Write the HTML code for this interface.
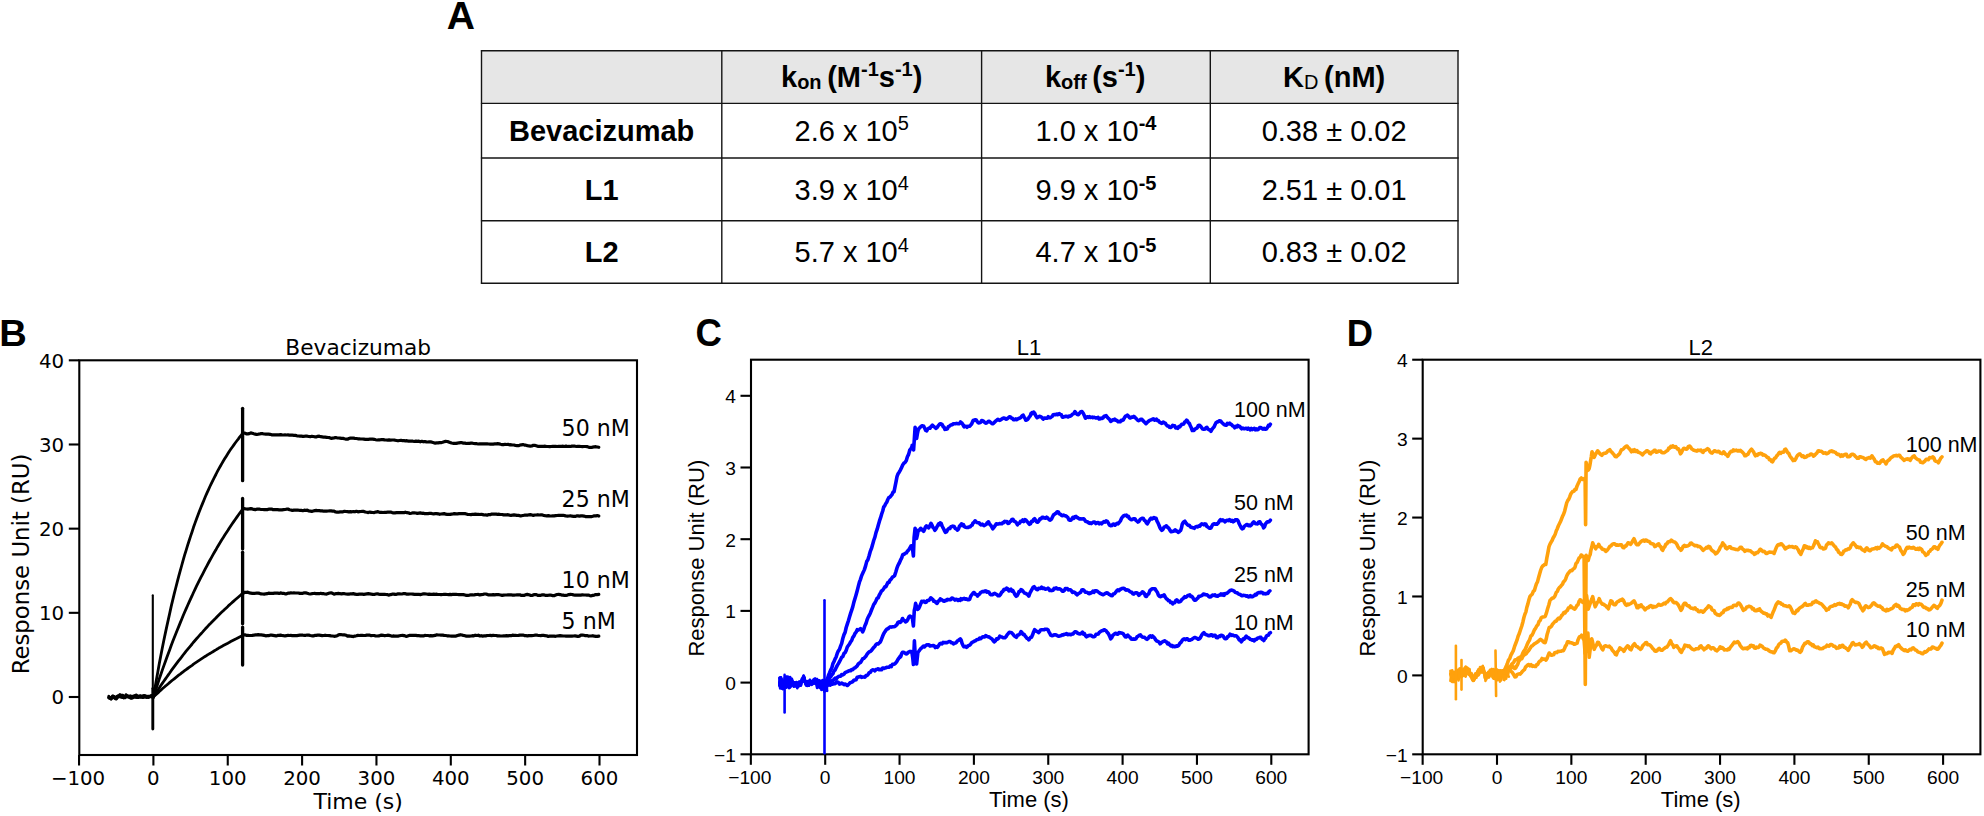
<!DOCTYPE html>
<html lang="en">
<head>
<meta charset="utf-8">
<title>SPR binding kinetics</title>
<style>
html,body{margin:0;padding:0;background:#fff;}
body{width:1984px;height:816px;overflow:hidden;}
svg{display:block;}
text{fill:#000;}
.tl{stroke:#141414;stroke-width:1.4;}
.tk{stroke:#000;stroke-width:2.1;}
.th{font-family:"Liberation Sans", Arial, Helvetica, sans-serif;font-weight:bold;font-size:29px;text-anchor:middle;}
.td{font-family:"Liberation Sans", Arial, Helvetica, sans-serif;font-size:29px;text-anchor:middle;}
.pl{font-family:"Liberation Sans", Arial, Helvetica, sans-serif;font-weight:bold;}
.dj{font-family:"DejaVu Sans", "Liberation Sans", sans-serif;}
.ar{font-family:"Liberation Sans", Arial, Helvetica, sans-serif;}
.dj.tkl{font-size:19.8px;}
.dj.lab{font-size:22px;}
.dj.ann{font-size:22.1px;}
.ar.tkl{font-size:19.2px;}
.ar.lab{font-size:22px;}
.ar.ann{font-size:21.5px;}
</style>
</head>
<body>
<svg width="1984" height="816" viewBox="0 0 1984 816">
<rect width="1984" height="816" fill="#ffffff"/>
<text transform="translate(446.63,29.2) scale(1.085,1.086)" class="pl" font-size="36">A</text>
<text transform="translate(-0.76,345.6) scale(1.061,1.017)" class="pl" font-size="36">B</text>
<text transform="translate(695.6,345.62) scale(1.015,1.063)" class="pl" font-size="36">C</text>
<text transform="translate(1346.77,345.6) scale(1.01,1.038)" class="pl" font-size="36">D</text>
<rect x="481.5" y="50.7" width="976.5" height="52.7" fill="#e6e6e6"/>
<line x1="481.5" y1="50.1" x2="481.5" y2="283.8" class="tl"/>
<line x1="721.8" y1="50.1" x2="721.8" y2="283.8" class="tl"/>
<line x1="981.6" y1="50.1" x2="981.6" y2="283.8" class="tl"/>
<line x1="1210.3" y1="50.1" x2="1210.3" y2="283.8" class="tl"/>
<line x1="1458.0" y1="50.1" x2="1458.0" y2="283.8" class="tl"/>
<line x1="480.9" y1="50.7" x2="1458.6" y2="50.7" class="tl"/>
<line x1="480.9" y1="103.4" x2="1458.6" y2="103.4" class="tl"/>
<line x1="480.9" y1="158.0" x2="1458.6" y2="158.0" class="tl"/>
<line x1="480.9" y1="220.8" x2="1458.6" y2="220.8" class="tl"/>
<line x1="480.9" y1="283.2" x2="1458.6" y2="283.2" class="tl"/>
<text x="851.7" y="87.4" class="th">k<tspan font-size="20" dy="1.5">on </tspan><tspan dy="-1.5">(M</tspan><tspan font-size="20" dy="-11">-1</tspan><tspan dy="11">s</tspan><tspan font-size="20" dy="-11">-1</tspan><tspan dy="11">)</tspan></text>
<text x="1095.15" y="87.4" class="th">k<tspan font-size="20" dy="1.5">off </tspan><tspan dy="-1.5">(s</tspan><tspan font-size="20" dy="-11">-1</tspan><tspan dy="11">)</tspan></text>
<text x="1334.15" y="87.4" class="th">K<tspan font-size="20" dy="1.5" font-weight="normal">D </tspan><tspan dy="-1.5">(nM)</tspan></text>
<text x="601.65" y="140.7" class="th">Bevacizumab</text>
<text x="851.7" y="140.7" class="td">2.6 x 10<tspan font-size="20" dy="-10.4">5</tspan></text>
<text x="1095.95" y="140.7" class="td">1.0 x 10<tspan font-size="20" dy="-10.4" font-weight="bold">-4</tspan></text>
<text x="1334.15" y="140.7" class="td">0.38 ± 0.02</text>
<text x="601.65" y="200.3" class="th">L1</text>
<text x="851.7" y="200.3" class="td">3.9 x 10<tspan font-size="20" dy="-10.4">4</tspan></text>
<text x="1095.95" y="200.3" class="td">9.9 x 10<tspan font-size="20" dy="-10.4" font-weight="bold">-5</tspan></text>
<text x="1334.15" y="200.3" class="td">2.51 ± 0.01</text>
<text x="601.65" y="262.3" class="th">L2</text>
<text x="851.7" y="262.3" class="td">5.7 x 10<tspan font-size="20" dy="-10.4">4</tspan></text>
<text x="1095.95" y="262.3" class="td">4.7 x 10<tspan font-size="20" dy="-10.4" font-weight="bold">-5</tspan></text>
<text x="1334.15" y="262.3" class="td">0.83 ± 0.02</text>
<rect x="79.3" y="360.3" width="557.7" height="394.7" fill="none" stroke="#000" stroke-width="2.1"/>
<line x1="79.05" y1="755.0" x2="79.05" y2="765.5" class="tk"/>
<text x="78.05" y="785.0" class="dj tkl" text-anchor="middle">−100</text>
<line x1="153.40" y1="755.0" x2="153.40" y2="765.5" class="tk"/>
<text x="153.40" y="785.0" class="dj tkl" text-anchor="middle">0</text>
<line x1="227.75" y1="755.0" x2="227.75" y2="765.5" class="tk"/>
<text x="227.75" y="785.0" class="dj tkl" text-anchor="middle">100</text>
<line x1="302.10" y1="755.0" x2="302.10" y2="765.5" class="tk"/>
<text x="302.10" y="785.0" class="dj tkl" text-anchor="middle">200</text>
<line x1="376.45" y1="755.0" x2="376.45" y2="765.5" class="tk"/>
<text x="376.45" y="785.0" class="dj tkl" text-anchor="middle">300</text>
<line x1="450.80" y1="755.0" x2="450.80" y2="765.5" class="tk"/>
<text x="450.80" y="785.0" class="dj tkl" text-anchor="middle">400</text>
<line x1="525.15" y1="755.0" x2="525.15" y2="765.5" class="tk"/>
<text x="525.15" y="785.0" class="dj tkl" text-anchor="middle">500</text>
<line x1="599.50" y1="755.0" x2="599.50" y2="765.5" class="tk"/>
<text x="599.50" y="785.0" class="dj tkl" text-anchor="middle">600</text>
<line x1="68.8" y1="697.00" x2="79.3" y2="697.00" class="tk"/>
<text x="64.1" y="704.20" class="dj tkl" text-anchor="end">0</text>
<line x1="68.8" y1="612.83" x2="79.3" y2="612.83" class="tk"/>
<text x="64.1" y="620.03" class="dj tkl" text-anchor="end">10</text>
<line x1="68.8" y1="528.66" x2="79.3" y2="528.66" class="tk"/>
<text x="64.1" y="535.86" class="dj tkl" text-anchor="end">20</text>
<line x1="68.8" y1="444.49" x2="79.3" y2="444.49" class="tk"/>
<text x="64.1" y="451.69" class="dj tkl" text-anchor="end">30</text>
<line x1="68.8" y1="360.32" x2="79.3" y2="360.32" class="tk"/>
<text x="64.1" y="367.52" class="dj tkl" text-anchor="end">40</text>
<text x="358.15" y="355.3" class="dj lab" text-anchor="middle" style="font-size:21.7px">Bevacizumab</text>
<text x="358.15" y="809.0" class="dj lab" text-anchor="middle">Time (s)</text>
<text transform="translate(29.4,564.0) rotate(-90)" class="dj lab" text-anchor="middle" style="font-size:22.8px">Response Unit (RU)</text>
<polyline points="108.8,697.8 109.5,698.3 110.3,698.4 111.0,698.3 111.8,698.0 112.5,697.2 113.3,697.9 114.0,697.8 114.7,698.0 115.5,698.0 116.2,696.8 117.0,696.4 117.7,696.1 118.5,696.6 119.2,696.9 119.9,696.9 120.7,697.1 121.4,696.9 122.2,697.1 122.9,697.6 123.7,698.0 124.4,697.1 125.1,696.3 125.9,694.6 126.6,695.3 127.4,695.9 128.1,697.2 128.9,696.9 129.6,696.8 130.4,696.4 131.1,696.8 131.8,697.4 132.6,697.0 133.3,697.0 134.1,695.8 134.8,696.6 135.6,696.3 136.3,697.5 137.0,697.7 137.8,697.6 138.5,696.5 139.3,696.2 140.0,696.2 140.8,697.3 141.5,697.1 142.2,697.4 143.0,697.1 143.7,697.1 144.5,697.0 145.2,697.0 146.0,697.4 146.7,697.5 147.5,697.3 148.2,697.1 148.9,697.2 149.7,696.8 150.4,696.1 151.2,695.5 151.9,696.0 152.7,697.0 153.4,697.5" fill="none" stroke="#000" stroke-width="2.8" stroke-linejoin="round" stroke-linecap="round" />
<polyline points="108.8,697.5 109.5,697.4 110.3,697.5 111.0,698.6 111.8,698.3 112.5,697.0 113.3,696.2 114.0,696.9 114.7,698.0 115.5,698.4 116.2,697.9 117.0,696.4 117.7,696.0 118.5,696.0 119.2,696.6 119.9,695.6 120.7,695.7 121.4,696.0 122.2,697.6 122.9,697.5 123.7,697.1 124.4,696.8 125.1,696.9 125.9,696.9 126.6,696.4 127.4,696.0 128.1,696.0 128.9,697.1 129.6,697.3 130.4,698.1 131.1,697.4 131.8,698.3 132.6,697.6 133.3,697.8 134.1,697.1 134.8,695.6 135.6,695.2 136.3,694.9 137.0,696.9 137.8,696.9 138.5,697.0 139.3,696.4 140.0,696.1 140.8,696.2 141.5,696.6 142.2,696.5 143.0,696.9 143.7,695.8 144.5,696.3 145.2,695.7 146.0,696.6 146.7,696.0 147.5,696.6 148.2,696.3 148.9,696.8 149.7,696.1 150.4,696.2 151.2,696.1 151.9,697.0 152.7,696.9 153.4,697.0" fill="none" stroke="#000" stroke-width="2.8" stroke-linejoin="round" stroke-linecap="round" />
<polyline points="108.8,697.6 109.5,698.1 110.3,698.1 111.0,698.2 111.8,697.2 112.5,696.2 113.3,696.1 114.0,696.6 114.7,697.3 115.5,699.0 116.2,699.2 117.0,698.1 117.7,696.9 118.5,695.9 119.2,695.2 119.9,694.5 120.7,694.8 121.4,695.0 122.2,695.5 122.9,696.0 123.7,696.3 124.4,696.6 125.1,696.4 125.9,695.9 126.6,695.6 127.4,695.8 128.1,696.7 128.9,696.1 129.6,696.0 130.4,695.7 131.1,696.4 131.8,696.1 132.6,696.1 133.3,696.5 134.1,696.9 134.8,697.2 135.6,697.1 136.3,696.5 137.0,695.7 137.8,695.9 138.5,695.9 139.3,697.0 140.0,696.9 140.8,697.2 141.5,696.7 142.2,696.5 143.0,697.6 143.7,697.1 144.5,697.1 145.2,696.3 146.0,696.7 146.7,696.9 147.5,697.3 148.2,697.5 148.9,697.1 149.7,696.9 150.4,696.7 151.2,696.8 151.9,696.9 152.7,696.5 153.4,696.6" fill="none" stroke="#000" stroke-width="2.8" stroke-linejoin="round" stroke-linecap="round" />
<polyline points="108.8,696.2 109.5,697.1 110.3,698.3 111.0,699.3 111.8,697.8 112.5,696.0 113.3,696.1 114.0,696.7 114.7,697.3 115.5,698.1 116.2,698.4 117.0,698.1 117.7,697.1 118.5,696.5 119.2,696.6 119.9,696.4 120.7,696.7 121.4,695.7 122.2,695.4 122.9,695.2 123.7,696.5 124.4,696.9 125.1,697.8 125.9,696.4 126.6,697.0 127.4,696.4 128.1,696.3 128.9,696.8 129.6,696.8 130.4,698.1 131.1,697.5 131.8,697.9 132.6,697.0 133.3,696.9 134.1,696.4 134.8,696.3 135.6,696.9 136.3,696.4 137.0,696.7 137.8,696.7 138.5,697.5 139.3,697.0 140.0,695.8 140.8,695.7 141.5,696.0 142.2,696.3 143.0,695.6 143.7,695.8 144.5,695.5 145.2,696.5 146.0,696.8 146.7,697.0 147.5,696.3 148.2,696.1 148.9,696.2 149.7,696.5 150.4,696.1 151.2,695.9 151.9,695.8 152.7,695.7 153.4,696.1" fill="none" stroke="#000" stroke-width="2.8" stroke-linejoin="round" stroke-linecap="round" />
<polyline points="153.4,697.0 154.9,688.3 156.4,679.8 157.9,671.6 159.3,663.5 160.8,655.7 162.3,648.1 163.8,640.6 165.3,633.4 166.8,626.4 168.3,619.6 169.8,612.9 171.2,606.4 172.7,600.1 174.2,593.9 175.7,588.0 177.2,582.1 178.7,576.4 180.2,570.9 181.7,565.5 183.1,560.3 184.6,555.2 186.1,550.3 187.6,545.4 189.1,540.7 190.6,536.1 192.1,531.7 193.5,527.3 195.0,523.1 196.5,519.0 198.0,515.0 199.5,511.1 201.0,507.3 202.5,503.6 204.0,500.0 205.4,496.5 206.9,493.1 208.4,489.8 209.9,486.5 211.4,483.4 212.9,480.3 214.4,477.4 215.9,474.5 217.3,471.6 218.8,468.9 220.3,466.2 221.8,463.6 223.3,461.0 224.8,458.6 226.3,456.2 227.8,453.8 229.2,451.5 230.7,449.3 232.2,447.2 233.7,445.1 235.2,443.0 236.7,441.0 238.2,439.1 239.6,437.2 241.1,435.3 242.6,433.5 243.4,433.1" fill="none" stroke="#000" stroke-width="2.8" stroke-linejoin="round" stroke-linecap="round" />
<polyline points="243.4,433.0 244.9,433.1 246.3,433.8 247.8,433.8 249.3,433.6 250.8,432.9 252.3,433.2 253.8,433.7 255.3,434.1 256.7,434.5 258.2,434.2 259.7,434.0 261.2,433.5 262.7,433.7 264.2,434.0 265.7,434.1 267.2,434.2 268.6,434.1 270.1,434.3 271.6,434.8 273.1,434.9 274.6,434.8 276.1,434.8 277.6,434.8 279.1,434.8 280.5,434.6 282.0,434.9 283.5,435.0 285.0,434.9 286.5,435.0 288.0,434.9 289.5,435.2 290.9,435.1 292.4,435.2 293.9,435.3 295.4,435.4 296.9,435.8 298.4,436.0 299.9,436.1 301.4,436.2 302.8,436.4 304.3,436.3 305.8,436.0 307.3,436.2 308.8,436.5 310.3,436.7 311.8,436.3 313.3,436.5 314.7,436.8 316.2,436.9 317.7,436.3 319.2,436.2 320.7,436.7 322.2,436.9 323.7,437.2 325.1,437.1 326.6,437.3 328.1,437.5 329.6,437.7 331.1,438.4 332.6,438.1 334.1,437.9 335.6,437.5 337.0,437.8 338.5,438.0 340.0,438.1 341.5,438.3 343.0,438.4 344.5,438.8 346.0,439.1 347.5,439.2 348.9,438.5 350.4,438.1 351.9,438.0 353.4,438.2 354.9,438.4 356.4,438.5 357.9,438.8 359.3,438.9 360.8,439.0 362.3,439.0 363.8,439.1 365.3,439.3 366.8,439.4 368.3,439.3 369.8,439.2 371.2,439.1 372.7,439.1 374.2,439.3 375.7,439.7 377.2,440.0 378.7,439.9 380.2,439.8 381.7,439.5 383.1,439.6 384.6,439.9 386.1,440.0 387.6,440.1 389.1,439.9 390.6,440.2 392.1,440.0 393.6,440.0 395.0,440.2 396.5,440.5 398.0,440.8 399.5,440.5 401.0,440.3 402.5,440.7 404.0,440.7 405.4,440.9 406.9,440.7 408.4,441.1 409.9,441.2 411.4,441.2 412.9,441.2 414.4,441.5 415.9,441.1 417.3,441.4 418.8,441.1 420.3,441.8 421.8,441.3 423.3,441.8 424.8,441.5 426.3,441.9 427.8,442.0 429.2,441.8 430.7,441.9 432.2,442.3 433.7,442.7 435.2,443.1 436.7,442.9 438.2,442.9 439.6,442.6 441.1,442.6 442.6,442.3 444.1,441.8 445.6,441.4 447.1,441.5 448.6,441.9 450.1,442.5 451.5,443.0 453.0,443.3 454.5,443.4 456.0,443.4 457.5,443.1 459.0,442.8 460.5,442.6 462.0,442.7 463.4,443.1 464.9,443.1 466.4,443.5 467.9,443.4 469.4,443.3 470.9,443.1 472.4,443.2 473.8,443.5 475.3,443.7 476.8,443.7 478.3,444.0 479.8,443.8 481.3,443.9 482.8,443.8 484.3,443.9 485.7,443.9 487.2,443.9 488.7,444.0 490.2,444.1 491.7,444.2 493.2,444.1 494.7,443.9 496.2,443.8 497.6,443.7 499.1,443.9 500.6,444.3 502.1,444.6 503.6,444.6 505.1,444.3 506.6,444.5 508.0,444.4 509.5,444.8 511.0,444.7 512.5,445.0 514.0,445.0 515.5,445.5 517.0,445.7 518.5,445.7 519.9,445.1 521.4,444.8 522.9,444.6 524.4,445.1 525.9,445.2 527.4,445.6 528.9,445.9 530.4,446.2 531.8,446.0 533.3,445.3 534.8,445.4 536.3,445.7 537.8,446.4 539.3,446.3 540.8,446.4 542.3,446.4 543.7,446.4 545.2,446.2 546.7,446.5 548.2,446.5 549.7,446.7 551.2,446.5 552.7,446.3 554.1,446.3 555.6,446.3 557.1,446.5 558.6,446.4 560.1,446.3 561.6,446.3 563.1,446.2 564.6,446.5 566.0,446.1 567.5,446.5 569.0,446.3 570.5,446.5 572.0,446.1 573.5,446.2 575.0,446.2 576.5,446.5 577.9,446.3 579.4,446.4 580.9,446.5 582.4,446.6 583.9,446.5 585.4,446.5 586.9,446.6 588.3,447.1 589.8,447.3 591.3,447.5 592.8,447.1 594.3,446.8 595.8,446.7 597.3,447.0 598.8,447.3" fill="none" stroke="#000" stroke-width="3.2" stroke-linejoin="round" stroke-linecap="round" />
<polyline points="153.4,697.0 154.9,692.4 156.4,687.8 157.9,683.3 159.3,678.8 160.8,674.5 162.3,670.1 163.8,665.9 165.3,661.7 166.8,657.6 168.3,653.5 169.8,649.5 171.2,645.5 172.7,641.6 174.2,637.8 175.7,634.0 177.2,630.2 178.7,626.6 180.2,622.9 181.7,619.3 183.1,615.8 184.6,612.3 186.1,608.9 187.6,605.5 189.1,602.2 190.6,598.9 192.1,595.7 193.5,592.5 195.0,589.3 196.5,586.2 198.0,583.2 199.5,580.2 201.0,577.2 202.5,574.3 204.0,571.4 205.4,568.6 206.9,565.8 208.4,563.0 209.9,560.3 211.4,557.6 212.9,554.9 214.4,552.3 215.9,549.8 217.3,547.2 218.8,544.7 220.3,542.3 221.8,539.8 223.3,537.5 224.8,535.1 226.3,532.8 227.8,530.5 229.2,528.2 230.7,526.0 232.2,523.8 233.7,521.6 235.2,519.5 236.7,517.4 238.2,515.3 239.6,513.3 241.1,511.3 242.6,509.3 243.4,508.9" fill="none" stroke="#000" stroke-width="2.8" stroke-linejoin="round" stroke-linecap="round" />
<polyline points="243.4,508.4 244.9,508.7 246.3,509.0 247.8,509.2 249.3,508.8 250.8,508.6 252.3,508.9 253.8,509.4 255.3,509.6 256.7,509.2 258.2,509.1 259.7,509.2 261.2,509.5 262.7,509.5 264.2,509.6 265.7,509.6 267.2,509.6 268.6,509.2 270.1,509.2 271.6,509.1 273.1,509.7 274.6,509.5 276.1,509.7 277.6,509.7 279.1,509.9 280.5,509.8 282.0,509.8 283.5,509.6 285.0,509.5 286.5,509.2 288.0,509.1 289.5,509.7 290.9,510.0 292.4,510.5 293.9,510.1 295.4,510.2 296.9,510.0 298.4,510.2 299.9,510.3 301.4,510.4 302.8,510.7 304.3,510.2 305.8,510.3 307.3,510.2 308.8,511.0 310.3,511.2 311.8,511.4 313.3,511.0 314.7,510.6 316.2,510.4 317.7,510.7 319.2,510.6 320.7,510.8 322.2,510.9 323.7,511.2 325.1,511.2 326.6,511.1 328.1,511.0 329.6,510.9 331.1,510.9 332.6,511.1 334.1,511.2 335.6,512.0 337.0,512.2 338.5,512.2 340.0,511.9 341.5,511.8 343.0,511.8 344.5,511.3 346.0,511.5 347.5,511.6 348.9,511.9 350.4,511.6 351.9,511.8 353.4,511.5 354.9,511.8 356.4,511.3 357.9,511.8 359.3,511.6 360.8,511.5 362.3,511.3 363.8,511.4 365.3,512.0 366.8,512.3 368.3,512.6 369.8,512.1 371.2,512.3 372.7,512.5 374.2,512.6 375.7,512.1 377.2,511.7 378.7,511.9 380.2,512.4 381.7,512.4 383.1,512.5 384.6,512.3 386.1,512.3 387.6,512.2 389.1,512.1 390.6,512.1 392.1,512.6 393.6,512.8 395.0,512.9 396.5,512.7 398.0,512.6 399.5,512.7 401.0,512.7 402.5,512.7 404.0,512.6 405.4,512.2 406.9,512.7 408.4,512.8 409.9,513.5 411.4,513.2 412.9,512.8 414.4,512.9 415.9,513.0 417.3,513.4 418.8,513.1 420.3,512.9 421.8,513.3 423.3,513.2 424.8,513.6 426.3,513.5 427.8,513.7 429.2,513.4 430.7,513.3 432.2,513.6 433.7,513.8 435.2,513.7 436.7,513.6 438.2,513.8 439.6,514.3 441.1,514.0 442.6,513.8 444.1,513.6 445.6,514.2 447.1,514.4 448.6,514.3 450.1,514.4 451.5,514.1 453.0,513.9 454.5,513.6 456.0,513.8 457.5,513.9 459.0,513.7 460.5,513.7 462.0,513.6 463.4,513.5 464.9,513.6 466.4,514.0 467.9,514.5 469.4,514.5 470.9,514.6 472.4,514.4 473.8,514.3 475.3,514.1 476.8,514.4 478.3,514.3 479.8,514.5 481.3,514.3 482.8,514.6 484.3,515.0 485.7,514.9 487.2,515.2 488.7,514.6 490.2,514.7 491.7,514.1 493.2,514.2 494.7,514.1 496.2,514.1 497.6,514.3 499.1,514.2 500.6,514.5 502.1,514.5 503.6,514.9 505.1,514.8 506.6,514.8 508.0,514.7 509.5,515.1 511.0,515.3 512.5,515.1 514.0,514.9 515.5,515.1 517.0,515.4 518.5,515.4 519.9,515.8 521.4,515.8 522.9,515.5 524.4,515.2 525.9,515.2 527.4,515.2 528.9,514.8 530.4,514.6 531.8,515.0 533.3,515.4 534.8,515.0 536.3,515.0 537.8,514.7 539.3,515.0 540.8,514.9 542.3,514.9 543.7,515.5 545.2,515.7 546.7,515.8 548.2,515.7 549.7,515.9 551.2,516.0 552.7,515.9 554.1,515.9 555.6,515.7 557.1,515.5 558.6,515.3 560.1,515.4 561.6,515.3 563.1,515.3 564.6,515.6 566.0,516.0 567.5,516.1 569.0,516.0 570.5,515.8 572.0,516.2 573.5,516.4 575.0,516.4 576.5,515.9 577.9,515.9 579.4,516.1 580.9,515.9 582.4,515.9 583.9,516.1 585.4,516.6 586.9,516.6 588.3,516.7 589.8,516.6 591.3,516.7 592.8,516.3 594.3,515.8 595.8,515.8 597.3,515.6 598.8,516.1" fill="none" stroke="#000" stroke-width="3.2" stroke-linejoin="round" stroke-linecap="round" />
<polyline points="153.4,697.0 154.9,694.7 156.4,692.4 157.9,690.1 159.3,687.9 160.8,685.6 162.3,683.4 163.8,681.3 165.3,679.1 166.8,677.0 168.3,674.9 169.8,672.8 171.2,670.7 172.7,668.7 174.2,666.7 175.7,664.7 177.2,662.7 178.7,660.7 180.2,658.8 181.7,656.9 183.1,655.0 184.6,653.1 186.1,651.2 187.6,649.4 189.1,647.6 190.6,645.8 192.1,644.0 193.5,642.2 195.0,640.5 196.5,638.8 198.0,637.1 199.5,635.4 201.0,633.7 202.5,632.1 204.0,630.4 205.4,628.8 206.9,627.2 208.4,625.6 209.9,624.1 211.4,622.5 212.9,621.0 214.4,619.5 215.9,618.0 217.3,616.5 218.8,615.0 220.3,613.5 221.8,612.1 223.3,610.7 224.8,609.3 226.3,607.9 227.8,606.5 229.2,605.1 230.7,603.8 232.2,602.4 233.7,601.1 235.2,599.8 236.7,598.5 238.2,597.2 239.6,596.0 241.1,594.7 242.6,593.5 243.4,593.1" fill="none" stroke="#000" stroke-width="2.8" stroke-linejoin="round" stroke-linecap="round" />
<polyline points="243.4,593.0 244.9,592.3 246.3,592.3 247.8,592.2 249.3,592.9 250.8,593.1 252.3,593.3 253.8,593.3 255.3,593.3 256.7,593.0 258.2,593.1 259.7,593.4 261.2,593.9 262.7,594.0 264.2,594.1 265.7,593.8 267.2,593.7 268.6,593.1 270.1,593.3 271.6,593.3 273.1,593.4 274.6,593.1 276.1,593.2 277.6,593.1 279.1,593.4 280.5,592.9 282.0,593.3 283.5,593.3 285.0,593.8 286.5,593.8 288.0,593.2 289.5,593.1 290.9,592.8 292.4,593.0 293.9,592.9 295.4,593.0 296.9,593.0 298.4,593.0 299.9,593.4 301.4,593.4 302.8,593.3 304.3,592.8 305.8,592.9 307.3,593.3 308.8,593.7 310.3,594.0 311.8,593.7 313.3,593.5 314.7,593.4 316.2,593.7 317.7,593.7 319.2,593.7 320.7,593.3 322.2,593.7 323.7,593.7 325.1,594.0 326.6,594.1 328.1,593.5 329.6,593.0 331.1,592.9 332.6,593.3 334.1,594.1 335.6,593.7 337.0,593.6 338.5,593.4 340.0,593.7 341.5,593.9 343.0,593.7 344.5,593.7 346.0,594.0 347.5,594.1 348.9,594.2 350.4,593.8 351.9,593.8 353.4,593.6 354.9,594.2 356.4,594.3 357.9,594.4 359.3,594.2 360.8,594.1 362.3,594.1 363.8,594.3 365.3,594.1 366.8,593.9 368.3,593.7 369.8,593.8 371.2,594.2 372.7,594.3 374.2,594.5 375.7,594.0 377.2,593.8 378.7,594.1 380.2,594.3 381.7,594.4 383.1,594.3 384.6,594.3 386.1,594.5 387.6,594.7 389.1,595.1 390.6,594.6 392.1,594.2 393.6,594.0 395.0,594.4 396.5,594.3 398.0,593.9 399.5,593.9 401.0,594.0 402.5,593.8 404.0,593.5 405.4,593.7 406.9,594.1 408.4,594.2 409.9,594.0 411.4,594.0 412.9,594.1 414.4,594.3 415.9,594.3 417.3,594.4 418.8,594.3 420.3,594.6 421.8,594.2 423.3,593.9 424.8,593.9 426.3,594.0 427.8,594.3 429.2,594.1 430.7,594.4 432.2,594.3 433.7,594.2 435.2,594.4 436.7,594.2 438.2,594.5 439.6,594.5 441.1,594.7 442.6,594.5 444.1,594.3 445.6,594.3 447.1,594.5 448.6,594.6 450.1,594.4 451.5,594.6 453.0,594.3 454.5,594.4 456.0,594.3 457.5,594.5 459.0,594.7 460.5,594.6 462.0,594.6 463.4,594.6 464.9,595.0 466.4,595.4 467.9,595.3 469.4,595.1 470.9,594.8 472.4,594.9 473.8,595.0 475.3,594.6 476.8,594.5 478.3,594.4 479.8,594.9 481.3,594.7 482.8,594.5 484.3,594.0 485.7,594.0 487.2,594.4 488.7,594.9 490.2,594.8 491.7,594.8 493.2,594.6 494.7,594.9 496.2,594.7 497.6,594.6 499.1,594.7 500.6,595.0 502.1,595.4 503.6,595.1 505.1,595.0 506.6,595.0 508.0,594.9 509.5,594.9 511.0,594.8 512.5,595.1 514.0,595.2 515.5,595.0 517.0,594.9 518.5,594.9 519.9,594.8 521.4,595.4 522.9,595.4 524.4,595.3 525.9,594.6 527.4,594.4 528.9,594.7 530.4,595.3 531.8,595.5 533.3,594.9 534.8,594.5 536.3,594.6 537.8,595.4 539.3,595.4 540.8,595.3 542.3,594.9 543.7,594.9 545.2,595.3 546.7,595.4 548.2,595.3 549.7,595.0 551.2,595.2 552.7,595.6 554.1,595.7 555.6,595.1 557.1,594.5 558.6,594.4 560.1,594.6 561.6,595.1 563.1,595.1 564.6,595.5 566.0,595.3 567.5,595.1 569.0,594.6 570.5,594.4 572.0,594.5 573.5,594.9 575.0,595.1 576.5,595.0 577.9,595.2 579.4,595.1 580.9,595.1 582.4,594.8 583.9,595.0 585.4,595.0 586.9,595.1 588.3,595.1 589.8,595.6 591.3,595.8 592.8,595.4 594.3,595.1 595.8,594.6 597.3,594.6 598.8,594.4" fill="none" stroke="#000" stroke-width="3.2" stroke-linejoin="round" stroke-linecap="round" />
<polyline points="153.4,697.0 154.9,695.6 156.4,694.2 157.9,692.9 159.3,691.5 160.8,690.2 162.3,688.8 163.8,687.5 165.3,686.2 166.8,685.0 168.3,683.7 169.8,682.4 171.2,681.2 172.7,680.0 174.2,678.8 175.7,677.6 177.2,676.4 178.7,675.2 180.2,674.1 181.7,672.9 183.1,671.8 184.6,670.7 186.1,669.6 187.6,668.5 189.1,667.4 190.6,666.3 192.1,665.3 193.5,664.2 195.0,663.2 196.5,662.2 198.0,661.2 199.5,660.2 201.0,659.2 202.5,658.2 204.0,657.2 205.4,656.3 206.9,655.3 208.4,654.4 209.9,653.5 211.4,652.6 212.9,651.7 214.4,650.8 215.9,649.9 217.3,649.0 218.8,648.1 220.3,647.3 221.8,646.4 223.3,645.6 224.8,644.8 226.3,644.0 227.8,643.2 229.2,642.4 230.7,641.6 232.2,640.8 233.7,640.0 235.2,639.2 236.7,638.5 238.2,637.7 239.6,637.0 241.1,636.3 242.6,635.6 243.4,635.1" fill="none" stroke="#000" stroke-width="2.8" stroke-linejoin="round" stroke-linecap="round" />
<polyline points="243.4,634.9 244.9,634.9 246.3,635.3 247.8,635.3 249.3,635.5 250.8,635.5 252.3,635.4 253.8,635.2 255.3,634.9 256.7,634.9 258.2,634.7 259.7,634.9 261.2,634.9 262.7,635.1 264.2,635.4 265.7,635.8 267.2,635.7 268.6,635.6 270.1,635.2 271.6,635.2 273.1,635.4 274.6,635.6 276.1,635.9 277.6,635.4 279.1,635.3 280.5,635.1 282.0,635.5 283.5,635.7 285.0,635.8 286.5,635.7 288.0,635.3 289.5,635.5 290.9,635.4 292.4,635.7 293.9,635.5 295.4,635.7 296.9,635.6 298.4,635.4 299.9,635.2 301.4,635.0 302.8,635.2 304.3,635.3 305.8,635.3 307.3,635.0 308.8,635.1 310.3,635.5 311.8,635.8 313.3,635.9 314.7,635.4 316.2,635.3 317.7,635.1 319.2,635.2 320.7,635.4 322.2,635.6 323.7,635.5 325.1,635.2 326.6,635.5 328.1,635.5 329.6,635.7 331.1,635.9 332.6,636.0 334.1,636.3 335.6,636.2 337.0,635.8 338.5,634.9 340.0,634.5 341.5,634.7 343.0,634.8 344.5,634.9 346.0,635.2 347.5,636.1 348.9,635.9 350.4,636.2 351.9,636.3 353.4,636.6 354.9,636.1 356.4,635.8 357.9,635.4 359.3,635.5 360.8,635.3 362.3,635.4 363.8,635.5 365.3,635.5 366.8,635.1 368.3,635.2 369.8,635.2 371.2,635.6 372.7,635.5 374.2,635.5 375.7,636.0 377.2,636.0 378.7,635.9 380.2,635.4 381.7,635.1 383.1,635.3 384.6,635.7 386.1,635.5 387.6,635.2 389.1,635.4 390.6,635.8 392.1,636.2 393.6,635.9 395.0,636.2 396.5,636.1 398.0,636.1 399.5,635.8 401.0,635.5 402.5,635.4 404.0,635.6 405.4,636.1 406.9,636.3 408.4,635.8 409.9,635.3 411.4,635.3 412.9,635.3 414.4,635.4 415.9,635.4 417.3,635.6 418.8,635.7 420.3,635.8 421.8,635.9 423.3,635.9 424.8,635.4 426.3,635.5 427.8,635.5 429.2,635.8 430.7,635.6 432.2,635.9 433.7,635.6 435.2,635.4 436.7,634.8 438.2,635.0 439.6,635.0 441.1,635.2 442.6,635.1 444.1,635.4 445.6,635.5 447.1,635.8 448.6,635.9 450.1,636.0 451.5,636.2 453.0,636.2 454.5,636.2 456.0,636.1 457.5,635.5 459.0,635.1 460.5,634.7 462.0,635.0 463.4,635.5 464.9,635.7 466.4,636.1 467.9,636.1 469.4,636.2 470.9,636.0 472.4,635.7 473.8,635.8 475.3,635.2 476.8,635.5 478.3,635.2 479.8,636.0 481.3,635.7 482.8,636.1 484.3,635.8 485.7,635.9 487.2,635.5 488.7,635.5 490.2,635.4 491.7,635.6 493.2,635.3 494.7,635.5 496.2,635.5 497.6,635.9 499.1,635.8 500.6,636.0 502.1,636.0 503.6,635.9 505.1,635.9 506.6,635.7 508.0,635.9 509.5,635.5 511.0,635.7 512.5,635.2 514.0,635.4 515.5,635.4 517.0,635.5 518.5,635.4 519.9,635.1 521.4,635.0 522.9,635.1 524.4,635.6 525.9,635.7 527.4,635.9 528.9,635.6 530.4,635.5 531.8,635.6 533.3,635.5 534.8,635.2 536.3,635.0 537.8,635.3 539.3,635.5 540.8,635.6 542.3,635.3 543.7,635.4 545.2,635.7 546.7,635.8 548.2,636.4 549.7,636.2 551.2,636.2 552.7,636.1 554.1,636.1 555.6,636.3 557.1,636.0 558.6,635.8 560.1,635.7 561.6,635.8 563.1,636.0 564.6,636.0 566.0,636.1 567.5,636.1 569.0,636.1 570.5,636.1 572.0,636.1 573.5,636.0 575.0,635.9 576.5,636.1 577.9,636.5 579.4,636.1 580.9,635.1 582.4,635.0 583.9,635.3 585.4,635.7 586.9,635.6 588.3,636.1 589.8,636.0 591.3,636.0 592.8,635.7 594.3,636.2 595.8,636.4 597.3,636.4 598.8,636.1" fill="none" stroke="#000" stroke-width="3.2" stroke-linejoin="round" stroke-linecap="round" />
<polyline points="152.8,595.2 152.8,688.6" fill="none" stroke="#000" stroke-width="2.1" stroke-linejoin="round" stroke-linecap="round" />
<polyline points="152.8,688.6 152.8,729.0" fill="none" stroke="#000" stroke-width="2.9" stroke-linejoin="round" stroke-linecap="round" />
<polyline points="242.6,408.3 242.6,480.7" fill="none" stroke="#000" stroke-width="3.3" stroke-linejoin="round" stroke-linecap="round" />
<polyline points="242.6,498.4 242.6,548.9" fill="none" stroke="#000" stroke-width="3.3" stroke-linejoin="round" stroke-linecap="round" />
<polyline points="242.6,552.2 242.6,623.8" fill="none" stroke="#000" stroke-width="3.3" stroke-linejoin="round" stroke-linecap="round" />
<polyline points="242.6,627.1 242.6,665.0" fill="none" stroke="#000" stroke-width="3.3" stroke-linejoin="round" stroke-linecap="round" />
<text x="561.6" y="435.6" class="dj ann">50 nM</text>
<text x="561.6" y="507.4" class="dj ann">25 nM</text>
<text x="561.6" y="587.5" class="dj ann">10 nM</text>
<text x="561.6" y="628.8" class="dj ann">5 nM</text>
<rect x="751.0" y="359.7" width="557.5999999999999" height="394.59999999999997" fill="none" stroke="#000" stroke-width="2.1"/>
<line x1="750.85" y1="754.3" x2="750.85" y2="764.8" class="tk"/>
<text x="749.85" y="784.0" class="ar tkl" text-anchor="middle">−100</text>
<line x1="825.20" y1="754.3" x2="825.20" y2="764.8" class="tk"/>
<text x="825.20" y="784.0" class="ar tkl" text-anchor="middle">0</text>
<line x1="899.55" y1="754.3" x2="899.55" y2="764.8" class="tk"/>
<text x="899.55" y="784.0" class="ar tkl" text-anchor="middle">100</text>
<line x1="973.90" y1="754.3" x2="973.90" y2="764.8" class="tk"/>
<text x="973.90" y="784.0" class="ar tkl" text-anchor="middle">200</text>
<line x1="1048.25" y1="754.3" x2="1048.25" y2="764.8" class="tk"/>
<text x="1048.25" y="784.0" class="ar tkl" text-anchor="middle">300</text>
<line x1="1122.60" y1="754.3" x2="1122.60" y2="764.8" class="tk"/>
<text x="1122.60" y="784.0" class="ar tkl" text-anchor="middle">400</text>
<line x1="1196.95" y1="754.3" x2="1196.95" y2="764.8" class="tk"/>
<text x="1196.95" y="784.0" class="ar tkl" text-anchor="middle">500</text>
<line x1="1271.30" y1="754.3" x2="1271.30" y2="764.8" class="tk"/>
<text x="1271.30" y="784.0" class="ar tkl" text-anchor="middle">600</text>
<line x1="740.5" y1="754.30" x2="751.0" y2="754.30" class="tk"/>
<text x="736.0" y="761.80" class="ar tkl" text-anchor="end">−1</text>
<line x1="740.5" y1="682.60" x2="751.0" y2="682.60" class="tk"/>
<text x="736.0" y="690.10" class="ar tkl" text-anchor="end">0</text>
<line x1="740.5" y1="610.90" x2="751.0" y2="610.90" class="tk"/>
<text x="736.0" y="618.40" class="ar tkl" text-anchor="end">1</text>
<line x1="740.5" y1="539.20" x2="751.0" y2="539.20" class="tk"/>
<text x="736.0" y="546.70" class="ar tkl" text-anchor="end">2</text>
<line x1="740.5" y1="467.50" x2="751.0" y2="467.50" class="tk"/>
<text x="736.0" y="475.00" class="ar tkl" text-anchor="end">3</text>
<line x1="740.5" y1="395.80" x2="751.0" y2="395.80" class="tk"/>
<text x="736.0" y="403.30" class="ar tkl" text-anchor="end">4</text>
<text x="1029.00" y="354.7" class="ar lab" text-anchor="middle">L1</text>
<text x="1029.00" y="807.3" class="ar lab" text-anchor="middle">Time (s)</text>
<text transform="translate(703.6,558.2) rotate(-90)" class="ar lab" text-anchor="middle">Response Unit (RU)</text>
<polyline points="779.3,683.2 780.2,688.5 781.1,677.3 782.0,680.4 782.9,689.1 783.8,685.1 784.7,678.0 785.6,680.7 786.5,687.7 787.4,682.1 788.3,676.8 789.2,688.2 790.1,678.3 791.0,685.0 791.9,684.8 792.8,683.4 793.7,686.7 794.6,682.4 795.5,685.3 796.4,682.7 797.3,688.2 798.2,682.9 799.1,684.4 800.0,685.6 800.9,685.2 801.8,678.9 802.7,682.0 803.6,680.3 804.5,678.9 805.4,683.3 806.3,681.8 807.2,681.4 808.1,681.1 809.0,681.6 809.9,684.3 810.8,681.8 811.7,684.8 812.6,684.0 813.5,679.7 814.4,680.9 815.3,678.5 816.2,682.7 817.1,684.6 818.0,685.3 818.9,680.4 819.8,686.9 820.7,681.0 821.6,689.8 822.5,685.3 823.4,681.1 824.3,691.7 825.2,691.2 826.1,683.7 827.0,690.8" fill="none" stroke="#0000ff" stroke-width="2.6" stroke-linejoin="round" stroke-linecap="round"/>
<polyline points="779.3,682.2 780.2,680.1 781.1,679.1 782.0,688.6 782.9,684.1 783.8,685.4 784.7,683.5 785.6,681.1 786.5,685.8 787.4,683.8 788.3,686.6 789.2,685.1 790.1,687.5 791.0,682.4 791.9,678.8 792.8,681.5 793.7,685.3 794.6,682.3 795.5,685.6 796.4,685.8 797.3,682.7 798.2,686.8 799.1,681.5 800.0,685.8 800.9,684.9 801.8,679.7 802.7,681.1 803.6,679.7 804.5,677.7 805.4,682.8 806.3,681.2 807.2,685.9 808.1,684.2 809.0,685.6 809.9,679.7 810.8,680.9 811.7,682.5 812.6,682.3 813.5,679.6 814.4,683.6 815.3,683.2 816.2,681.0 817.1,679.0 818.0,686.3 818.9,684.2 819.8,687.5 820.7,685.6 821.6,684.5 822.5,680.1 823.4,681.5 824.3,685.4 825.2,688.6 826.1,684.9 827.0,688.6" fill="none" stroke="#0000ff" stroke-width="2.6" stroke-linejoin="round" stroke-linecap="round"/>
<polyline points="779.3,685.6 780.2,677.4 781.1,680.5 782.0,679.7 782.9,686.2 783.8,685.2 784.7,687.9 785.6,677.3 786.5,681.7 787.4,676.7 788.3,679.3 789.2,683.1 790.1,677.0 791.0,679.3 791.9,685.2 792.8,683.9 793.7,682.3 794.6,684.8 795.5,686.5 796.4,682.1 797.3,687.2 798.2,686.2 799.1,683.4 800.0,681.6 800.9,685.6 801.8,680.4 802.7,677.3 803.6,675.8 804.5,682.1 805.4,682.4 806.3,685.3 807.2,684.8 808.1,683.3 809.0,685.6 809.9,681.6 810.8,682.3 811.7,683.8 812.6,682.4 813.5,683.6 814.4,681.7 815.3,682.4 816.2,679.5 817.1,680.0 818.0,681.8 818.9,680.3 819.8,682.4 820.7,680.9 821.6,683.1 822.5,687.4 823.4,684.2 824.3,684.4 825.2,682.4 826.1,683.0 827.0,690.9" fill="none" stroke="#0000ff" stroke-width="2.6" stroke-linejoin="round" stroke-linecap="round"/>
<polyline points="779.3,677.8 780.2,686.1 781.1,678.8 782.0,682.8 782.9,685.3 783.8,686.8 784.7,682.2 785.6,682.6 786.5,676.5 787.4,682.0 788.3,681.3 789.2,687.6 790.1,683.7 791.0,686.5 791.9,682.4 792.8,681.6 793.7,686.1 794.6,686.2 795.5,683.9 796.4,682.6 797.3,685.5 798.2,685.0 799.1,686.0 800.0,684.2 800.9,682.9 801.8,681.8 802.7,679.0 803.6,675.6 804.5,677.4 805.4,684.4 806.3,685.5 807.2,682.2 808.1,685.4 809.0,682.9 809.9,680.0 810.8,684.2 811.7,682.3 812.6,684.2 813.5,682.5 814.4,678.8 815.3,681.9 816.2,683.9 817.1,688.0 818.0,682.3 818.9,685.7 819.8,688.0 820.7,681.7 821.6,689.9 822.5,689.2 823.4,680.5 824.3,687.0 825.2,684.3 826.1,682.0 827.0,686.9" fill="none" stroke="#0000ff" stroke-width="2.6" stroke-linejoin="round" stroke-linecap="round"/>
<polyline points="824.5,600.3 824.5,753.3" fill="none" stroke="#0000ff" stroke-width="2.6" stroke-linejoin="round" stroke-linecap="round"/>
<polyline points="784.6,674.9 784.6,712.5" fill="none" stroke="#0000ff" stroke-width="2.6" stroke-linejoin="round" stroke-linecap="round"/>
<polyline points="824.5,686.0 825.5,683.3 826.6,680.2 827.6,678.3 828.6,674.9 829.6,672.7 830.7,669.9 831.8,668.0 832.9,663.7 834.0,661.7 835.1,658.8 836.2,656.8 837.3,653.2 838.4,650.8 839.5,649.4 840.6,646.2 841.7,643.4 842.8,638.5 844.0,634.6 845.1,632.4 846.2,627.5 847.3,624.1 848.4,620.7 849.5,617.0 850.6,613.4 851.7,610.2 852.8,606.6 853.9,602.1 855.0,598.5 856.1,594.7 857.2,590.7 858.3,586.4 859.4,582.2 860.4,579.6 861.3,576.7 862.3,574.2 863.3,572.1 864.4,569.6 865.6,565.9 866.7,561.6 867.9,559.8 869.1,555.8 870.2,551.7 871.4,548.7 872.6,544.6 873.7,540.5 874.9,537.2 876.0,532.6 877.2,529.2 878.4,524.8 879.5,520.9 880.6,517.7 881.6,514.3 882.7,511.0 883.7,507.0 884.7,505.8 885.8,503.5 886.8,502.2 887.8,499.5 888.8,497.7 889.9,497.2 890.9,495.9 891.9,494.8 892.9,492.3 894.0,491.9 895.0,486.9 896.0,481.8 897.0,476.7 898.1,473.7 899.3,471.9 900.5,469.8 901.6,467.4 902.8,464.8 904.0,463.1 905.1,462.4 906.3,460.5 907.4,456.8 908.6,454.4 909.8,450.0 910.7,449.1 911.6,447.5 912.6,445.4 912.1,445.4 912.9,448.2 913.6,449.9 914.4,438.1 915.1,427.3 915.9,433.2 916.6,438.4 917.4,433.6 918.1,430.3 919.2,428.1 920.2,427.3 921.0,426.5 921.8,425.8 922.7,425.8 923.7,426.2 924.7,428.3 925.7,430.4 926.7,430.8 927.8,428.9 928.9,428.1 930.0,428.2 931.1,426.4 932.3,425.2 933.4,426.2 934.6,427.1 935.8,428.3 936.9,427.7 938.1,425.9 939.2,424.7 940.3,423.7 941.3,424.0 942.3,424.7 943.2,426.7 944.0,426.9 944.9,429.3 945.7,429.0 946.5,429.2 947.4,428.8 948.4,426.6 949.4,426.2 950.4,425.3 951.4,424.7 952.4,424.6 953.4,423.7 954.4,423.8 955.4,423.7 956.5,423.4 957.5,423.6 958.5,423.7 959.5,423.6 960.5,422.0 961.7,422.9 962.8,424.4 964.0,426.8 965.0,426.3 966.0,426.3 967.0,427.3 967.9,426.3 968.7,426.2 969.6,426.2 970.6,425.2 971.6,424.0 972.6,421.7 973.4,420.2 974.3,420.4 975.1,419.7 976.2,420.0 977.4,421.9 978.5,422.9 979.6,422.7 980.6,422.4 981.7,420.5 982.7,420.7 983.7,421.5 984.7,422.3 985.7,423.2 986.7,422.9 987.7,422.0 988.7,421.2 989.7,421.7 990.9,422.6 992.1,423.6 993.2,423.7 994.4,422.3 995.6,421.2 996.8,420.2 997.8,419.3 998.8,420.0 999.8,420.4 1000.8,419.7 1001.8,419.0 1002.8,418.4 1003.8,418.0 1004.8,418.2 1005.9,419.2 1007.0,419.0 1008.2,417.9 1009.4,416.7 1010.4,417.0 1011.4,418.2 1012.4,418.3 1013.4,419.7 1014.6,419.8 1015.8,418.9 1016.9,419.7 1018.1,418.7 1019.3,418.3 1020.5,417.7 1021.4,416.8 1022.3,415.6 1023.2,415.2 1024.1,417.1 1024.9,418.1 1025.8,420.2 1026.7,420.0 1027.6,419.5 1028.5,418.2 1029.4,416.8 1030.2,416.0 1031.0,413.6 1031.9,412.7 1032.7,413.5 1033.6,412.1 1034.7,413.2 1035.9,415.9 1037.1,417.7 1038.3,416.8 1039.4,416.3 1040.6,416.7 1041.5,417.1 1042.3,418.1 1043.2,419.2 1044.2,418.0 1045.2,418.1 1046.2,418.2 1047.2,418.2 1048.2,416.7 1049.2,417.7 1050.2,417.7 1051.2,417.0 1052.2,416.5 1053.2,414.7 1054.4,414.5 1055.6,414.8 1056.8,414.1 1057.6,414.7 1058.4,413.9 1059.3,413.6 1060.3,414.5 1061.3,414.8 1062.3,417.1 1063.3,417.2 1064.5,416.7 1065.7,416.3 1066.8,416.2 1068.0,417.0 1069.2,416.0 1070.4,416.2 1071.5,415.3 1072.6,414.1 1073.8,413.6 1074.9,411.6 1076.1,413.2 1077.3,414.5 1078.4,414.7 1079.6,413.1 1080.8,411.8 1082.0,411.6 1083.1,413.0 1084.3,415.5 1085.5,418.2 1086.5,417.1 1087.5,416.8 1088.5,417.4 1089.5,416.7 1090.0,417.4 1091.0,417.4 1092.0,417.1 1093.0,417.7 1094.0,417.3 1095.0,417.6 1096.0,418.0 1097.1,417.8 1098.1,417.3 1099.1,419.0 1100.1,419.0 1101.1,418.1 1102.1,418.4 1103.1,417.9 1104.1,416.2 1105.1,416.1 1106.1,415.7 1107.3,417.3 1108.4,418.4 1109.5,419.3 1110.7,421.4 1111.7,420.8 1112.7,419.8 1113.7,420.0 1114.7,419.2 1115.8,420.2 1117.0,420.5 1118.1,421.7 1119.2,421.7 1120.2,421.8 1121.2,420.2 1122.3,420.4 1123.3,419.9 1124.3,418.0 1125.3,416.4 1126.4,415.8 1127.5,415.2 1128.4,416.1 1129.4,417.6 1130.3,418.0 1131.5,417.1 1132.7,417.2 1133.8,416.4 1135.0,417.3 1136.1,418.6 1137.3,419.8 1138.4,420.7 1139.2,420.3 1140.1,419.9 1140.9,419.2 1141.9,419.3 1142.9,420.5 1143.9,421.7 1144.9,422.5 1146.0,423.7 1147.1,422.6 1148.2,421.5 1149.3,420.6 1150.5,420.0 1151.5,419.8 1152.5,419.1 1153.5,418.9 1154.5,420.2 1155.5,419.6 1156.5,419.2 1157.5,420.6 1158.5,420.6 1159.6,422.4 1160.6,422.5 1161.6,423.4 1162.4,423.1 1163.2,422.1 1164.1,422.7 1165.2,423.1 1166.3,424.8 1167.4,425.9 1168.5,426.0 1169.6,427.3 1170.6,427.5 1171.7,426.8 1172.7,425.3 1173.7,425.8 1174.7,425.9 1175.7,427.9 1176.7,427.7 1177.7,428.3 1178.7,426.6 1179.7,427.0 1180.7,425.6 1181.7,424.3 1182.7,424.2 1183.7,424.0 1184.7,422.0 1185.6,421.5 1186.6,420.2 1187.5,420.9 1188.4,422.9 1189.3,423.2 1190.3,425.8 1191.3,427.8 1192.3,430.5 1193.2,429.7 1194.0,430.4 1194.8,429.3 1196.0,428.5 1197.1,428.1 1198.2,425.7 1199.4,425.2 1200.5,426.1 1201.6,427.6 1202.8,429.1 1203.9,429.3 1204.9,429.1 1205.9,427.9 1206.9,427.3 1207.9,429.0 1209.0,429.7 1210.0,430.0 1211.0,431.3 1212.0,429.3 1213.0,428.0 1214.0,427.0 1215.0,424.7 1216.0,422.7 1217.2,421.9 1218.4,421.7 1219.5,420.7 1220.6,420.9 1221.8,422.5 1222.9,423.5 1224.0,424.6 1225.1,425.0 1226.2,425.3 1227.3,423.3 1228.5,423.9 1229.6,423.2 1230.6,424.1 1231.6,424.6 1232.6,425.9 1233.7,426.4 1234.7,427.8 1235.7,426.4 1236.7,426.9 1237.7,425.4 1238.7,426.5 1239.7,426.4 1240.7,427.7 1241.7,428.8 1242.8,428.1 1243.9,428.7 1245.0,428.7 1246.2,428.2 1247.3,429.1 1248.3,428.2 1249.3,428.9 1250.3,429.8 1251.3,428.5 1252.3,429.6 1253.3,428.8 1254.3,428.3 1255.3,429.8 1256.3,428.9 1257.3,429.8 1258.5,429.3 1259.7,427.6 1260.9,427.5 1262.0,428.6 1263.1,429.1 1264.3,428.3 1265.4,429.3 1266.4,429.1 1267.4,427.6 1268.4,425.4 1269.4,425.9 1270.4,424.2" fill="none" stroke="#0000ff" stroke-width="3.6" stroke-linejoin="round" stroke-linecap="round"/>
<polyline points="824.5,686.0 825.6,683.9 826.6,682.8 827.6,680.6 828.7,680.2 829.7,677.6 830.8,676.6 831.8,674.9 832.9,673.8 834.0,670.9 835.1,670.0 836.2,667.6 837.3,665.4 838.4,663.6 839.5,661.6 840.6,659.5 841.7,657.3 842.8,656.5 844.0,653.5 845.1,652.6 846.2,650.4 847.3,647.0 848.4,645.5 849.5,644.0 850.6,641.9 851.7,640.5 852.8,637.3 853.9,636.0 855.0,633.5 856.1,632.2 857.2,629.7 858.3,630.1 859.4,629.4 860.5,628.6 861.6,629.7 862.7,631.9 863.8,629.3 864.9,625.7 866.0,623.4 867.1,619.7 868.2,617.1 869.3,615.3 870.4,612.9 871.5,610.0 872.6,607.4 873.8,604.3 874.9,603.0 876.0,600.8 877.1,598.2 878.2,597.8 879.3,595.0 880.4,593.2 881.5,590.9 882.6,590.2 883.7,588.7 884.8,586.8 885.9,586.7 887.0,584.4 888.0,582.3 889.0,582.4 890.0,580.2 891.2,579.2 892.3,577.3 893.5,576.5 894.6,575.6 895.8,572.0 897.0,567.9 898.1,565.1 899.3,563.0 900.5,560.2 901.6,558.1 902.8,554.6 904.0,554.4 905.1,553.4 906.3,552.9 907.4,551.2 908.6,550.2 909.8,548.0 910.9,546.0 912.1,545.6 912.8,550.9 913.4,556.0 914.1,537.4 915.1,528.3 915.9,533.4 916.6,538.4 917.4,534.9 918.1,530.3 919.0,530.4 919.8,529.6 920.7,528.3 921.7,529.9 922.7,529.5 923.7,531.3 924.6,529.3 925.5,526.9 926.4,525.8 927.6,526.9 928.7,527.8 929.9,525.7 931.0,523.3 932.0,525.1 932.9,527.4 933.8,528.1 934.8,530.3 935.8,529.1 936.8,527.1 937.8,525.3 938.6,523.9 939.5,524.5 940.3,522.8 941.2,523.5 942.0,525.7 942.8,527.3 943.7,529.0 944.5,530.8 945.4,532.3 946.5,531.9 947.7,529.7 948.9,528.3 949.9,528.5 950.9,526.8 951.9,526.6 952.9,526.1 954.1,526.5 955.2,528.4 956.3,529.0 957.5,530.1 958.5,529.0 959.5,526.2 960.5,525.3 961.5,523.8 962.5,525.5 963.5,524.7 964.5,526.7 965.5,527.3 966.7,527.5 967.8,527.5 968.9,527.0 970.1,526.8 971.1,525.6 972.1,525.2 973.1,522.8 974.1,522.3 975.1,520.8 976.1,521.8 977.1,522.6 978.1,522.8 979.1,522.7 980.1,524.3 981.1,524.9 982.2,524.1 983.2,525.1 984.2,525.6 985.2,524.8 986.3,524.3 987.4,522.6 988.5,521.8 989.6,524.2 990.6,525.1 991.7,526.7 992.7,528.8 993.9,527.3 995.1,525.7 996.3,523.8 997.4,524.1 998.5,523.9 999.7,523.6 1000.8,523.8 1001.8,523.8 1002.8,522.6 1003.8,522.7 1004.8,521.3 1005.9,521.8 1006.9,521.6 1007.9,523.4 1008.9,523.3 1009.9,521.7 1010.9,521.1 1011.9,519.4 1012.9,519.2 1014.0,521.1 1015.2,521.7 1016.3,522.6 1017.4,524.8 1018.4,523.2 1019.5,523.2 1020.5,521.2 1021.6,521.5 1022.7,520.0 1023.8,521.5 1024.9,519.7 1026.0,520.2 1027.2,521.6 1028.4,523.0 1029.5,524.3 1030.5,523.7 1031.6,521.4 1032.6,521.5 1033.6,519.4 1034.6,518.7 1035.6,520.3 1036.6,521.9 1037.6,522.3 1038.7,521.2 1039.9,518.9 1041.0,518.9 1042.1,517.4 1043.2,517.4 1044.4,518.1 1045.5,518.3 1046.6,517.2 1047.7,518.0 1048.5,518.9 1049.4,519.8 1050.2,520.2 1051.4,519.2 1052.6,516.8 1053.7,514.7 1054.9,513.9 1056.1,513.2 1057.3,511.7 1058.3,511.9 1059.3,513.9 1060.3,514.2 1061.3,515.1 1062.3,515.7 1063.5,515.1 1064.7,515.8 1065.8,515.7 1066.8,516.7 1067.8,517.4 1068.9,519.9 1069.9,520.2 1070.9,520.2 1071.9,518.8 1072.9,517.4 1073.9,518.3 1074.9,516.7 1076.0,516.4 1077.1,517.5 1078.2,518.0 1079.3,519.0 1080.4,518.7 1081.5,519.0 1082.5,518.9 1083.5,518.7 1084.5,519.6 1085.5,521.2 1086.5,521.7 1087.5,521.7 1088.5,522.8 1089.3,523.3 1090.0,522.8 1091.2,523.6 1092.4,522.7 1093.5,522.0 1094.7,522.0 1095.9,523.6 1097.1,522.8 1098.2,522.5 1099.3,523.8 1100.5,523.0 1101.6,523.8 1102.7,522.5 1103.9,521.6 1105.0,522.1 1106.1,520.8 1107.3,521.3 1108.4,523.2 1109.5,525.1 1110.7,525.8 1111.8,525.6 1112.8,524.3 1113.9,524.1 1115.0,525.2 1116.1,524.0 1117.2,523.3 1118.2,523.8 1119.4,522.1 1120.5,520.8 1121.6,518.1 1122.8,516.7 1123.7,515.7 1124.6,515.4 1125.6,515.5 1126.5,515.2 1127.5,516.6 1128.4,516.3 1129.4,518.4 1130.4,519.2 1131.3,519.7 1132.2,519.5 1133.0,518.9 1133.8,518.7 1134.9,518.7 1135.9,520.4 1136.9,521.1 1137.9,522.1 1139.0,521.4 1140.2,519.4 1141.3,518.6 1142.4,518.2 1143.4,518.5 1144.4,520.4 1145.3,520.8 1146.3,522.7 1147.3,523.8 1148.2,522.3 1149.1,520.7 1150.1,519.1 1151.0,518.2 1152.0,519.0 1153.0,518.2 1154.0,517.5 1155.0,518.4 1156.0,518.2 1157.0,521.1 1158.0,522.9 1159.0,525.3 1160.0,527.7 1160.9,529.2 1161.8,530.3 1162.9,529.5 1164.1,527.2 1165.2,526.7 1166.4,525.8 1167.6,527.3 1168.8,528.2 1170.0,530.3 1171.2,531.8 1172.2,531.6 1173.2,531.3 1174.2,530.8 1175.2,529.8 1176.2,531.1 1177.2,531.1 1178.2,532.3 1179.0,531.9 1179.9,531.0 1180.7,530.3 1181.5,527.8 1182.2,524.3 1183.1,522.6 1183.9,521.7 1184.8,521.2 1185.9,523.0 1187.1,524.3 1188.3,525.3 1189.3,525.3 1190.3,526.8 1191.3,527.3 1192.3,527.6 1193.3,527.7 1194.3,528.3 1195.5,526.9 1196.6,526.6 1197.7,526.9 1198.9,525.8 1199.9,526.2 1200.9,524.5 1201.9,523.9 1202.9,524.2 1203.9,524.9 1204.9,523.8 1205.9,524.2 1206.9,526.4 1207.9,527.0 1209.0,528.0 1210.0,528.3 1211.0,527.8 1212.0,525.9 1213.0,524.3 1214.0,523.7 1215.0,524.2 1216.0,524.1 1217.0,524.3 1218.2,523.1 1219.4,521.0 1220.5,519.7 1221.7,520.7 1222.8,519.9 1223.9,520.7 1225.1,521.8 1226.2,520.7 1227.3,520.2 1228.5,520.7 1229.6,519.7 1230.8,521.1 1232.0,520.4 1233.2,521.8 1234.2,521.2 1235.2,519.9 1236.2,519.8 1237.2,519.7 1238.2,521.1 1239.2,523.8 1240.2,525.8 1241.2,527.7 1242.2,528.8 1243.2,528.4 1244.2,526.4 1245.2,525.6 1246.2,524.8 1247.3,524.5 1248.3,525.6 1249.3,525.0 1250.3,525.8 1251.5,524.9 1252.6,523.0 1253.8,521.8 1254.6,522.5 1255.5,523.8 1256.3,523.8 1257.5,523.9 1258.7,522.0 1259.9,521.8 1260.8,523.7 1261.7,524.4 1262.7,525.4 1263.6,527.8 1264.5,526.8 1265.5,523.9 1266.4,522.8 1267.4,521.7 1268.4,521.9 1269.4,521.5 1270.4,520.2" fill="none" stroke="#0000ff" stroke-width="3.6" stroke-linejoin="round" stroke-linecap="round"/>
<polyline points="824.5,686.0 825.7,686.0 826.9,683.5 828.1,683.9 829.3,682.6 830.5,682.6 831.6,680.8 832.8,680.9 834.0,679.3 835.1,678.2 836.2,679.1 837.3,677.5 838.4,676.6 839.5,676.3 840.6,676.3 841.7,674.6 842.9,674.9 844.0,674.1 845.1,672.7 846.2,672.2 847.3,671.7 848.4,671.1 849.5,670.5 850.6,670.8 851.7,669.5 852.8,669.6 853.9,668.3 855.0,667.9 856.1,666.8 857.2,665.8 858.3,664.0 859.4,663.1 860.5,662.4 861.6,660.7 862.7,658.8 863.8,658.4 864.9,657.3 866.0,656.1 867.1,654.2 868.2,652.8 869.3,651.7 870.4,651.4 871.5,650.4 872.6,648.9 873.8,647.3 874.9,646.3 876.0,644.6 877.1,643.7 878.2,643.9 879.3,642.8 880.4,641.8 881.5,639.2 882.6,636.3 883.7,633.7 884.8,631.9 885.9,630.2 887.0,629.0 888.1,628.7 889.2,627.5 890.3,626.9 891.4,627.1 892.5,626.7 893.6,626.7 894.7,626.4 895.8,625.7 896.9,624.7 898.0,622.4 899.1,621.9 900.0,622.5 900.8,622.0 901.7,620.4 902.5,618.5 903.5,620.2 904.5,620.7 905.5,622.0 906.7,621.3 907.8,619.5 908.9,617.0 910.1,616.0 911.2,617.0 912.3,617.5 913.4,626.0 914.3,610.4 915.0,607.5 915.6,603.4 916.6,606.8 917.6,609.4 918.6,608.6 919.7,606.4 920.7,603.9 921.7,601.3 922.8,601.9 923.9,601.1 925.1,602.4 926.2,602.3 927.3,600.6 928.5,600.5 929.6,599.7 930.8,597.8 931.8,598.7 932.8,599.4 933.8,601.3 934.9,601.2 936.0,602.7 937.1,603.4 938.2,601.2 939.2,600.8 940.3,598.8 941.3,599.6 942.3,600.1 943.3,601.0 944.4,601.3 945.4,600.3 946.4,600.5 947.4,599.4 948.4,599.8 949.5,599.5 950.7,599.6 951.8,598.1 952.9,598.3 953.9,599.1 954.9,600.1 955.9,599.3 957.0,599.6 958.0,600.5 959.0,599.7 960.0,600.4 961.0,598.7 962.0,599.6 963.0,598.8 964.2,598.4 965.4,599.3 966.5,598.8 967.5,599.7 968.5,599.8 969.6,599.3 970.6,596.5 971.6,594.8 972.4,594.1 973.2,592.9 974.1,592.5 975.3,594.3 976.4,594.5 977.6,596.1 978.6,594.6 979.6,594.1 980.6,592.6 981.7,591.9 982.7,591.5 983.7,591.8 984.7,591.1 985.7,590.9 986.7,592.2 987.7,591.5 988.9,592.1 990.1,594.2 991.2,594.8 992.4,594.6 993.6,593.9 994.8,593.3 995.9,594.2 997.0,594.7 998.2,595.8 999.3,595.8 1000.4,594.6 1001.6,592.3 1002.7,591.5 1003.8,589.7 1004.8,589.2 1005.7,589.5 1006.6,588.2 1007.8,588.8 1008.9,590.8 1009.9,589.9 1010.9,589.2 1011.9,591.1 1012.9,590.6 1013.9,592.5 1015.0,594.8 1016.1,596.3 1017.1,595.7 1018.1,593.9 1019.0,591.6 1020.0,591.5 1021.0,589.7 1022.1,590.2 1023.2,591.5 1024.4,593.0 1025.5,593.3 1026.6,593.9 1027.7,594.7 1028.8,596.1 1029.9,593.1 1031.0,591.2 1032.1,589.2 1033.1,587.3 1034.1,586.7 1035.2,588.1 1036.4,589.3 1037.6,589.7 1038.6,588.3 1039.6,588.5 1040.6,588.4 1041.6,587.2 1042.8,588.4 1044.0,588.1 1045.2,589.2 1046.1,589.0 1047.0,588.9 1048.0,588.2 1048.9,588.9 1049.8,590.5 1050.7,590.2 1051.8,590.6 1053.0,590.3 1054.1,588.4 1055.2,588.7 1056.2,587.9 1057.3,588.9 1058.3,588.9 1059.3,588.7 1060.3,589.1 1061.3,589.9 1062.3,591.2 1063.3,591.1 1064.3,590.5 1065.3,588.5 1066.3,588.7 1067.3,588.5 1068.3,589.9 1069.4,589.8 1070.4,589.7 1071.4,590.8 1072.5,592.4 1073.7,592.1 1074.9,592.4 1076.0,593.8 1077.2,594.8 1078.4,593.6 1079.5,593.0 1080.7,592.2 1081.8,590.0 1083.0,589.7 1084.1,590.5 1085.3,592.1 1086.5,592.3 1087.5,592.5 1088.5,593.5 1089.5,593.7 1090.5,593.3 1090.0,592.8 1091.0,593.0 1092.0,592.4 1093.0,591.1 1094.0,592.3 1095.0,590.7 1096.0,590.8 1097.1,591.0 1098.1,591.9 1099.1,592.6 1100.1,593.6 1101.1,593.8 1102.1,594.3 1103.2,594.7 1104.4,594.0 1105.5,593.4 1106.6,592.8 1107.7,593.0 1108.9,594.2 1110.0,594.6 1111.1,595.6 1112.2,595.8 1113.3,594.1 1114.4,593.8 1115.6,592.4 1116.7,590.8 1117.8,589.8 1118.9,590.7 1120.0,589.5 1121.1,589.0 1122.2,588.4 1123.3,588.2 1124.3,588.4 1125.3,589.6 1126.3,590.2 1127.3,589.8 1128.3,590.2 1129.4,591.2 1130.6,591.9 1131.7,592.2 1132.8,593.8 1133.8,594.1 1134.9,593.0 1135.9,592.8 1136.9,592.7 1137.9,594.0 1138.9,595.3 1140.1,593.7 1141.2,593.4 1142.4,591.8 1143.4,592.4 1144.4,593.5 1145.4,596.0 1146.5,596.5 1147.6,594.5 1148.7,593.9 1149.9,590.5 1151.0,589.7 1152.0,588.7 1153.0,588.7 1154.0,588.8 1155.0,588.7 1156.2,590.7 1157.3,592.2 1158.4,595.2 1159.6,596.3 1160.7,596.7 1161.8,595.7 1163.0,596.0 1164.1,594.8 1165.2,596.9 1166.4,598.7 1167.5,599.5 1168.6,600.8 1169.6,600.9 1170.6,602.5 1171.7,602.3 1172.7,603.9 1173.7,602.7 1174.7,602.7 1175.7,600.6 1176.7,599.8 1177.7,600.8 1178.7,602.0 1179.7,601.8 1180.7,601.2 1181.7,599.6 1182.7,598.8 1183.8,597.8 1184.8,596.6 1185.8,597.3 1186.8,596.6 1187.8,595.5 1188.8,595.2 1189.8,594.8 1190.8,596.5 1191.8,596.2 1192.8,597.6 1193.8,599.4 1194.8,600.3 1195.8,600.0 1196.9,598.8 1197.9,598.1 1198.9,596.2 1199.9,596.3 1201.0,595.9 1202.2,595.4 1203.3,594.0 1204.4,594.3 1205.5,594.7 1206.6,594.7 1207.7,595.3 1208.8,596.5 1209.9,597.0 1211.0,596.8 1212.0,595.4 1213.0,595.0 1214.0,595.5 1215.0,594.8 1215.8,596.0 1216.7,596.0 1217.5,596.3 1218.7,595.2 1219.9,595.1 1221.0,593.8 1222.1,595.0 1223.1,594.0 1224.1,595.3 1225.2,593.6 1226.3,593.5 1227.3,593.1 1228.4,592.0 1229.5,591.0 1230.6,590.2 1231.8,590.1 1232.9,590.6 1234.0,590.9 1235.2,592.3 1236.2,592.7 1237.2,592.8 1238.2,593.9 1239.2,594.2 1240.2,594.5 1241.2,595.3 1242.2,595.8 1243.2,595.2 1244.2,595.5 1245.2,595.5 1246.3,596.1 1247.3,595.8 1248.3,596.9 1249.3,596.7 1250.3,595.6 1251.3,596.8 1252.3,596.8 1253.3,596.0 1254.3,595.8 1255.3,594.3 1256.3,594.8 1257.5,593.2 1258.7,592.6 1259.9,592.8 1261.0,592.2 1262.1,592.4 1263.3,593.7 1264.4,593.5 1265.6,593.9 1266.7,593.3 1267.9,593.5 1268.9,591.6 1269.9,590.8" fill="none" stroke="#0000ff" stroke-width="3.6" stroke-linejoin="round" stroke-linecap="round"/>
<polyline points="824.5,686.0 825.7,685.8 826.9,686.0 828.0,684.9 829.2,685.0 830.4,685.1 831.5,684.0 832.7,684.1 833.9,683.7 835.1,683.6 836.2,682.6 837.3,682.0 838.4,682.4 839.5,684.1 840.6,683.8 841.7,683.1 842.9,683.8 844.0,684.6 845.1,684.0 846.2,684.8 847.3,685.5 848.4,684.6 849.5,683.4 850.6,682.4 851.7,682.2 852.8,681.6 853.9,680.2 855.0,679.9 856.1,679.7 857.2,677.2 858.3,677.1 859.4,676.7 860.5,676.4 861.6,677.4 862.7,677.0 863.8,677.0 864.9,677.1 866.0,675.6 867.1,675.4 868.2,674.3 869.3,672.6 870.4,672.2 871.5,670.5 872.7,669.9 873.8,670.0 874.9,670.9 876.0,669.5 877.1,669.2 878.2,668.8 879.3,669.8 880.4,669.4 881.5,669.7 882.6,668.0 883.7,668.5 884.8,668.1 885.9,667.7 887.0,667.3 888.1,667.3 889.2,667.2 890.3,665.8 891.4,666.5 892.5,664.4 893.6,664.3 894.7,663.8 895.8,662.8 896.9,661.4 898.0,659.4 899.1,657.9 900.2,656.2 900.0,657.4 900.8,656.5 901.7,653.5 902.5,652.4 903.7,652.3 904.9,653.0 906.0,653.9 907.1,653.7 908.1,652.5 909.1,651.8 910.1,651.4 911.1,651.6 912.1,653.4 912.8,658.3 913.4,664.5 914.4,640.8 915.1,653.4 915.9,659.0 916.6,664.0 917.3,657.7 917.9,652.4 919.0,651.0 920.1,649.4 921.1,648.3 922.2,647.3 923.3,646.2 924.4,646.8 925.6,645.7 926.7,644.8 927.8,645.0 928.9,644.7 930.0,646.0 931.1,645.7 932.3,645.8 933.3,645.5 934.3,645.9 935.3,647.5 936.3,646.7 937.3,647.3 938.5,645.8 939.7,643.9 940.8,643.3 942.0,643.8 943.1,642.4 944.2,642.8 945.4,642.5 946.4,642.8 947.4,642.3 948.4,641.9 949.4,641.5 950.4,641.8 951.4,642.8 952.4,642.7 953.4,643.8 954.4,643.3 955.4,643.1 956.5,642.3 957.5,640.8 958.4,640.4 959.3,639.6 960.3,638.8 961.2,640.2 962.1,643.4 963.1,645.6 964.0,646.8 964.9,646.7 965.7,646.4 966.5,647.3 967.5,646.5 968.5,645.4 969.6,645.2 970.6,644.2 971.6,642.8 972.6,642.1 973.6,641.6 974.6,641.0 975.6,640.7 976.6,639.8 977.6,639.6 978.6,639.3 979.6,638.1 980.6,638.7 981.6,637.8 982.7,636.7 983.7,636.7 984.7,637.0 985.7,635.7 986.7,636.2 987.7,636.8 988.7,636.7 989.7,637.5 990.9,638.2 992.0,638.9 993.1,640.5 994.2,641.8 995.4,640.8 996.5,638.8 997.6,639.1 998.7,638.2 999.8,636.2 1000.8,636.6 1001.8,636.9 1002.8,637.7 1003.8,637.7 1004.8,637.8 1006.0,636.7 1007.1,634.9 1008.2,633.6 1009.4,632.2 1010.6,632.6 1011.7,632.8 1012.9,634.2 1014.1,635.7 1015.3,636.5 1016.4,637.3 1017.6,635.0 1018.7,635.0 1019.8,634.0 1021.0,631.7 1022.0,632.6 1023.0,634.5 1024.0,634.2 1025.0,635.8 1026.0,637.0 1026.9,638.3 1027.9,638.6 1028.8,639.8 1029.7,638.6 1030.6,637.4 1031.5,637.3 1032.6,634.8 1033.6,631.9 1034.6,629.7 1035.6,630.4 1036.6,631.4 1037.6,631.5 1038.6,632.7 1039.6,631.5 1040.6,629.9 1041.6,629.7 1042.8,629.8 1044.0,629.8 1045.2,629.2 1046.2,629.2 1047.2,629.3 1048.2,630.2 1049.0,632.1 1049.9,633.5 1050.7,635.2 1051.8,635.7 1053.0,635.4 1054.1,634.8 1055.2,634.7 1056.2,635.0 1057.3,635.6 1058.3,636.1 1059.3,636.2 1060.3,635.8 1061.3,635.5 1062.3,634.8 1063.3,635.0 1064.3,634.2 1065.4,634.3 1066.5,633.7 1067.6,634.7 1068.7,634.3 1069.8,634.4 1070.9,634.7 1072.0,634.1 1073.1,633.9 1074.3,632.3 1075.4,631.7 1076.6,632.2 1077.8,633.3 1078.9,633.7 1080.1,633.9 1081.3,633.3 1082.5,632.2 1083.5,634.2 1084.5,633.7 1085.5,635.7 1086.5,636.8 1087.7,636.0 1088.8,635.5 1090.0,635.2 1090.0,635.2 1091.0,635.3 1092.0,636.2 1093.0,636.8 1094.0,636.8 1095.0,636.2 1096.0,634.4 1097.1,634.3 1098.1,634.1 1099.1,632.7 1100.1,631.9 1101.1,631.1 1102.1,630.7 1103.1,630.5 1104.1,629.7 1105.1,630.2 1106.1,630.8 1107.1,632.2 1108.3,633.5 1109.5,635.9 1110.7,638.8 1111.7,637.8 1112.7,635.5 1113.7,634.7 1114.7,633.7 1115.8,633.3 1116.9,634.1 1117.9,634.1 1119.0,632.6 1120.1,632.7 1121.2,632.9 1122.3,633.2 1123.3,633.8 1124.3,635.5 1125.3,636.8 1126.1,637.0 1127.0,635.6 1127.8,635.2 1128.9,636.6 1130.1,637.3 1131.2,639.0 1132.3,639.3 1133.5,638.9 1134.7,639.2 1135.9,638.8 1137.0,636.9 1138.2,636.2 1139.4,635.2 1140.4,634.9 1141.4,636.3 1142.4,637.0 1143.4,637.3 1144.6,637.4 1145.8,638.6 1147.0,639.3 1148.1,638.4 1149.3,636.6 1150.5,635.8 1151.5,637.0 1152.5,636.0 1153.5,637.0 1154.5,637.8 1155.6,639.8 1156.7,641.0 1157.8,641.4 1159.0,642.0 1160.1,643.8 1161.2,642.8 1162.3,642.1 1163.5,641.3 1164.6,640.8 1165.6,641.5 1166.6,642.1 1167.6,643.9 1168.6,643.2 1169.6,644.8 1170.6,645.8 1171.7,645.3 1172.7,646.7 1173.7,646.1 1174.7,646.7 1175.7,646.5 1176.7,645.7 1177.7,646.1 1178.7,645.3 1179.8,643.4 1180.9,642.4 1182.0,640.7 1183.1,639.3 1184.2,638.8 1185.3,639.7 1186.4,638.9 1187.5,638.8 1188.6,640.1 1189.7,640.2 1190.8,639.8 1191.8,639.6 1192.8,638.6 1193.8,637.9 1194.8,637.5 1195.8,637.8 1197.0,638.3 1198.2,639.2 1199.4,638.8 1200.5,637.5 1201.6,635.3 1202.8,633.6 1203.9,632.7 1205.0,634.1 1206.2,634.7 1207.3,635.0 1208.5,635.8 1209.6,635.8 1210.7,634.7 1211.8,634.8 1212.9,636.2 1214.0,635.2 1215.2,635.2 1216.3,637.5 1217.5,637.8 1218.7,636.3 1219.9,636.5 1221.0,635.2 1222.2,635.5 1223.3,636.3 1224.4,638.2 1225.6,638.8 1226.7,638.4 1227.8,636.5 1229.0,636.1 1230.1,634.2 1231.1,634.8 1232.1,635.4 1233.1,635.1 1234.2,635.9 1235.2,635.8 1236.2,635.8 1237.2,636.8 1238.2,638.0 1239.2,640.0 1240.2,639.8 1241.2,641.8 1242.2,640.6 1243.2,638.9 1244.2,639.1 1245.2,637.4 1246.2,636.2 1247.3,637.6 1248.3,637.6 1249.3,638.4 1250.3,639.3 1251.3,639.7 1252.3,640.2 1253.3,639.9 1254.3,640.8 1255.4,639.3 1256.5,639.4 1257.6,638.0 1258.8,638.0 1259.9,637.3 1260.9,637.4 1261.9,639.1 1262.9,639.7 1263.9,640.5 1264.7,638.5 1265.6,638.2 1266.4,636.2 1267.4,635.3 1268.4,635.3 1269.4,633.3 1270.4,632.7" fill="none" stroke="#0000ff" stroke-width="3.6" stroke-linejoin="round" stroke-linecap="round"/>
<text x="1234.0" y="416.7" class="ar ann">100 nM</text>
<text x="1234.0" y="510.2" class="ar ann">50 nM</text>
<text x="1234.0" y="582.2" class="ar ann">25 nM</text>
<text x="1234.0" y="629.6" class="ar ann">10 nM</text>
<rect x="1422.7" y="359.7" width="557.7" height="394.59999999999997" fill="none" stroke="#000" stroke-width="2.1"/>
<line x1="1422.65" y1="754.3" x2="1422.65" y2="764.8" class="tk"/>
<text x="1421.65" y="784.0" class="ar tkl" text-anchor="middle">−100</text>
<line x1="1497.00" y1="754.3" x2="1497.00" y2="764.8" class="tk"/>
<text x="1497.00" y="784.0" class="ar tkl" text-anchor="middle">0</text>
<line x1="1571.35" y1="754.3" x2="1571.35" y2="764.8" class="tk"/>
<text x="1571.35" y="784.0" class="ar tkl" text-anchor="middle">100</text>
<line x1="1645.70" y1="754.3" x2="1645.70" y2="764.8" class="tk"/>
<text x="1645.70" y="784.0" class="ar tkl" text-anchor="middle">200</text>
<line x1="1720.05" y1="754.3" x2="1720.05" y2="764.8" class="tk"/>
<text x="1720.05" y="784.0" class="ar tkl" text-anchor="middle">300</text>
<line x1="1794.40" y1="754.3" x2="1794.40" y2="764.8" class="tk"/>
<text x="1794.40" y="784.0" class="ar tkl" text-anchor="middle">400</text>
<line x1="1868.75" y1="754.3" x2="1868.75" y2="764.8" class="tk"/>
<text x="1868.75" y="784.0" class="ar tkl" text-anchor="middle">500</text>
<line x1="1943.10" y1="754.3" x2="1943.10" y2="764.8" class="tk"/>
<text x="1943.10" y="784.0" class="ar tkl" text-anchor="middle">600</text>
<line x1="1412.2" y1="754.32" x2="1422.7" y2="754.32" class="tk"/>
<text x="1407.7" y="761.82" class="ar tkl" text-anchor="end">−1</text>
<line x1="1412.2" y1="675.40" x2="1422.7" y2="675.40" class="tk"/>
<text x="1407.7" y="682.90" class="ar tkl" text-anchor="end">0</text>
<line x1="1412.2" y1="596.48" x2="1422.7" y2="596.48" class="tk"/>
<text x="1407.7" y="603.98" class="ar tkl" text-anchor="end">1</text>
<line x1="1412.2" y1="517.56" x2="1422.7" y2="517.56" class="tk"/>
<text x="1407.7" y="525.06" class="ar tkl" text-anchor="end">2</text>
<line x1="1412.2" y1="438.64" x2="1422.7" y2="438.64" class="tk"/>
<text x="1407.7" y="446.14" class="ar tkl" text-anchor="end">3</text>
<line x1="1412.2" y1="359.72" x2="1422.7" y2="359.72" class="tk"/>
<text x="1407.7" y="367.22" class="ar tkl" text-anchor="end">4</text>
<text x="1700.75" y="354.7" class="ar lab" text-anchor="middle">L2</text>
<text x="1700.75" y="807.3" class="ar lab" text-anchor="middle">Time (s)</text>
<text transform="translate(1375.3,558.2) rotate(-90)" class="ar lab" text-anchor="middle">Response Unit (RU)</text>
<polyline points="1450.4,681.0 1451.3,673.6 1452.2,675.6 1453.1,671.7 1454.0,682.0 1454.9,671.9 1455.8,678.1 1456.7,676.9 1457.6,677.8 1458.5,673.7 1459.4,672.9 1460.3,672.7 1461.2,668.3 1462.1,670.8 1463.0,669.9 1463.9,675.5 1464.8,671.1 1465.7,666.5 1466.6,667.7 1467.5,669.6 1468.4,674.5 1469.3,669.1 1470.2,673.4 1471.1,676.9 1472.0,673.6 1472.9,679.7 1473.8,680.8 1474.7,679.2 1475.6,673.3 1476.5,677.7 1477.4,671.7 1478.3,674.6 1479.2,673.4 1480.1,670.5 1481.0,671.7 1481.9,671.4 1482.8,671.1 1483.7,669.9 1484.6,677.7 1485.5,678.5 1486.4,675.7 1487.3,673.2 1488.2,677.3 1489.1,677.4 1490.0,675.7 1490.9,674.1 1491.8,675.2 1492.7,671.6 1493.6,669.2 1494.5,678.9 1495.4,677.5 1496.3,675.2 1497.2,679.4 1498.1,671.0 1499.0,670.7 1499.9,673.1 1500.8,680.7 1501.7,673.8 1502.6,670.2 1503.5,670.8 1504.4,669.6 1505.3,678.5 1506.2,678.7 1507.1,667.0 1508.0,673.6 1508.9,667.5" fill="none" stroke="#ffa10c" stroke-width="2.6" stroke-linejoin="round" stroke-linecap="round"/>
<polyline points="1450.4,673.9 1451.3,677.5 1452.2,670.2 1453.1,681.9 1454.0,679.9 1454.9,682.0 1455.8,673.2 1456.7,672.1 1457.6,669.9 1458.5,671.1 1459.4,668.6 1460.3,676.2 1461.2,671.8 1462.1,676.8 1463.0,675.7 1463.9,670.3 1464.8,667.7 1465.7,669.5 1466.6,667.7 1467.5,671.7 1468.4,669.0 1469.3,670.0 1470.2,676.4 1471.1,674.6 1472.0,679.4 1472.9,680.9 1473.8,679.2 1474.7,675.2 1475.6,673.4 1476.5,672.9 1477.4,675.2 1478.3,672.5 1479.2,669.9 1480.1,667.0 1481.0,668.9 1481.9,668.7 1482.8,666.0 1483.7,669.4 1484.6,673.1 1485.5,677.0 1486.4,676.7 1487.3,676.3 1488.2,677.4 1489.1,672.6 1490.0,670.3 1490.9,669.8 1491.8,669.0 1492.7,673.8 1493.6,673.1 1494.5,671.7 1495.4,669.4 1496.3,677.6 1497.2,676.4 1498.1,676.7 1499.0,678.0 1499.9,680.1 1500.8,670.4 1501.7,671.8 1502.6,674.7 1503.5,677.0 1504.4,674.2 1505.3,673.8 1506.2,670.7 1507.1,669.2 1508.0,676.1 1508.9,676.6" fill="none" stroke="#ffa10c" stroke-width="2.6" stroke-linejoin="round" stroke-linecap="round"/>
<polyline points="1450.4,670.9 1451.3,677.2 1452.2,681.9 1453.1,674.2 1454.0,676.6 1454.9,674.6 1455.8,678.9 1456.7,677.9 1457.6,676.4 1458.5,680.5 1459.4,676.8 1460.3,672.0 1461.2,672.0 1462.1,674.6 1463.0,674.8 1463.9,668.8 1464.8,675.4 1465.7,670.7 1466.6,672.9 1467.5,667.8 1468.4,669.9 1469.3,669.1 1470.2,673.1 1471.1,673.3 1472.0,675.2 1472.9,675.6 1473.8,680.5 1474.7,677.9 1475.6,674.8 1476.5,674.7 1477.4,671.4 1478.3,675.6 1479.2,674.2 1480.1,670.9 1481.0,667.5 1481.9,672.6 1482.8,667.0 1483.7,668.1 1484.6,673.9 1485.5,676.8 1486.4,679.2 1487.3,673.3 1488.2,671.8 1489.1,673.6 1490.0,669.9 1490.9,674.2 1491.8,672.3 1492.7,677.4 1493.6,678.6 1494.5,670.6 1495.4,677.7 1496.3,674.6 1497.2,680.3 1498.1,670.2 1499.0,675.0 1499.9,681.6 1500.8,670.6 1501.7,673.2 1502.6,672.8 1503.5,673.0 1504.4,680.1 1505.3,670.0 1506.2,676.9 1507.1,669.5 1508.0,676.1 1508.9,666.6" fill="none" stroke="#ffa10c" stroke-width="2.6" stroke-linejoin="round" stroke-linecap="round"/>
<polyline points="1450.4,673.4 1451.3,676.1 1452.2,676.8 1453.1,675.6 1454.0,677.1 1454.9,675.9 1455.8,676.3 1456.7,672.1 1457.6,670.6 1458.5,671.9 1459.4,677.7 1460.3,668.2 1461.2,671.7 1462.1,672.1 1463.0,673.2 1463.9,671.3 1464.8,676.0 1465.7,676.6 1466.6,671.5 1467.5,668.6 1468.4,673.8 1469.3,674.9 1470.2,673.5 1471.1,677.1 1472.0,679.0 1472.9,680.7 1473.8,676.2 1474.7,675.0 1475.6,678.0 1476.5,673.1 1477.4,672.0 1478.3,669.3 1479.2,673.2 1480.1,668.5 1481.0,667.6 1481.9,670.3 1482.8,666.1 1483.7,673.2 1484.6,671.6 1485.5,680.9 1486.4,674.1 1487.3,673.3 1488.2,674.6 1489.1,675.9 1490.0,673.0 1490.9,674.7 1491.8,669.4 1492.7,677.2 1493.6,669.8 1494.5,672.7 1495.4,677.9 1496.3,673.3 1497.2,669.6 1498.1,677.9 1499.0,670.6 1499.9,674.8 1500.8,674.1 1501.7,675.4 1502.6,670.7 1503.5,679.7 1504.4,677.9 1505.3,674.3 1506.2,670.6 1507.1,670.9 1508.0,668.7 1508.9,669.7" fill="none" stroke="#ffa10c" stroke-width="2.6" stroke-linejoin="round" stroke-linecap="round"/>
<polyline points="1585.3,580.4 1585.3,681.6" fill="none" stroke="#ffa10c" stroke-width="2.6" stroke-linejoin="round" stroke-linecap="round"/>
<polyline points="1455.9,645.8 1455.9,699.2" fill="none" stroke="#ffa10c" stroke-width="2.6" stroke-linejoin="round" stroke-linecap="round"/>
<polyline points="1461.5,660.1 1461.5,689.6" fill="none" stroke="#ffa10c" stroke-width="2.6" stroke-linejoin="round" stroke-linecap="round"/>
<polyline points="1495.5,650.6 1496.1,696.0" fill="none" stroke="#ffa10c" stroke-width="2.6" stroke-linejoin="round" stroke-linecap="round"/>
<polyline points="1503.8,672.9 1504.9,669.3 1506.1,666.6 1507.3,663.7 1508.5,660.1 1509.7,658.6 1510.9,655.1 1512.1,653.0 1513.3,650.6 1514.5,646.7 1515.7,643.5 1516.9,640.4 1518.1,636.2 1519.3,633.5 1520.5,629.8 1521.7,626.2 1522.9,621.9 1523.9,617.5 1524.9,614.2 1525.9,611.9 1526.8,607.5 1527.9,603.9 1529.0,599.5 1530.0,596.4 1531.1,595.1 1532.2,594.2 1533.3,591.4 1534.4,590.4 1535.4,587.0 1536.5,583.6 1537.5,581.9 1538.5,577.9 1539.6,573.9 1540.6,570.5 1541.7,567.5 1542.7,566.0 1543.8,565.2 1544.8,564.3 1545.8,564.4 1546.9,557.6 1547.9,552.6 1549.0,546.7 1550.0,544.2 1551.0,542.3 1552.1,540.6 1553.1,538.0 1554.2,536.2 1555.2,534.2 1556.3,530.8 1557.3,528.7 1558.3,526.0 1559.4,523.8 1560.4,521.8 1561.5,519.0 1562.5,516.3 1563.5,514.4 1564.6,511.3 1565.6,507.2 1566.7,502.9 1567.7,500.6 1568.8,499.1 1569.8,496.7 1570.8,493.8 1571.9,492.5 1572.9,491.2 1574.0,491.2 1575.0,489.3 1576.0,489.4 1577.1,485.9 1578.1,483.8 1579.2,481.5 1580.2,479.0 1581.3,477.9 1582.4,479.5 1583.5,479.4 1584.6,478.3 1585.1,478.5 1585.6,524.8 1586.1,462.3 1586.9,466.9 1587.6,470.4 1588.4,470.0 1589.2,468.4 1589.9,465.1 1590.7,460.3 1591.3,456.7 1592.0,451.8 1593.1,454.4 1594.2,457.3 1595.4,454.5 1596.5,452.8 1597.7,450.8 1598.7,452.1 1599.7,453.6 1600.7,454.6 1601.8,455.3 1602.9,453.9 1604.0,453.4 1605.2,453.2 1606.3,452.8 1607.5,451.3 1608.6,450.5 1609.8,449.7 1610.8,451.4 1611.8,452.2 1612.8,453.3 1614.0,454.7 1615.2,456.5 1616.4,456.8 1617.2,455.9 1618.0,455.3 1618.9,454.3 1619.7,453.6 1620.6,451.4 1621.4,449.7 1622.4,449.6 1623.4,448.9 1624.4,447.7 1625.3,447.0 1626.1,446.2 1627.0,446.0 1628.1,447.6 1629.2,448.5 1630.4,450.1 1631.5,451.8 1632.5,450.2 1633.5,451.3 1634.5,449.7 1635.7,451.4 1636.9,450.6 1638.0,452.3 1639.2,452.4 1640.3,453.1 1641.4,453.8 1642.6,454.8 1643.6,453.4 1644.6,452.5 1645.6,451.9 1646.6,450.8 1647.6,450.9 1648.6,451.6 1649.6,453.4 1650.7,453.8 1651.8,452.0 1653.0,451.9 1654.2,450.2 1655.2,450.3 1656.2,452.3 1657.2,452.1 1658.4,451.0 1659.6,451.3 1660.7,451.1 1661.7,452.6 1662.7,452.8 1663.7,452.8 1664.8,452.3 1665.8,451.6 1666.8,450.8 1667.8,450.4 1668.8,448.0 1669.8,448.1 1670.8,446.4 1671.8,447.2 1672.8,445.8 1673.8,446.8 1674.8,447.3 1675.8,446.7 1676.7,448.1 1677.5,448.9 1678.4,448.7 1679.4,450.8 1680.4,453.8 1681.6,452.3 1682.7,449.8 1683.9,448.2 1684.9,448.4 1685.9,449.2 1687.1,448.9 1688.3,446.6 1689.5,446.0 1690.5,446.8 1691.5,448.7 1692.5,449.4 1693.5,450.2 1694.6,450.3 1695.7,450.8 1696.8,451.1 1697.9,450.1 1698.9,450.4 1700.0,450.2 1701.0,450.1 1702.1,451.9 1703.1,452.3 1704.2,450.5 1705.3,450.2 1706.5,449.5 1707.6,448.7 1708.8,449.5 1710.0,451.7 1711.1,452.8 1712.1,453.1 1713.1,452.0 1714.2,450.9 1715.2,450.8 1716.2,451.6 1717.2,451.9 1718.2,451.2 1719.2,451.6 1720.2,453.0 1721.2,453.3 1722.0,453.6 1722.9,453.1 1723.7,451.8 1724.7,453.0 1725.7,454.4 1726.8,455.0 1727.8,456.3 1728.9,454.2 1730.1,452.3 1731.3,451.2 1732.3,451.5 1733.3,450.0 1734.3,450.7 1735.3,450.4 1736.3,450.1 1737.3,451.0 1738.3,450.6 1739.4,450.9 1740.4,450.4 1741.5,451.3 1742.6,452.3 1743.8,453.7 1744.9,455.8 1745.9,455.7 1746.9,454.7 1747.9,454.3 1749.1,452.0 1750.3,450.5 1751.5,449.2 1752.5,450.5 1753.5,451.8 1754.5,454.1 1755.5,455.8 1756.5,454.7 1757.5,455.3 1758.5,453.9 1759.5,454.0 1760.5,453.3 1760.0,453.8 1761.0,453.4 1762.0,453.7 1763.0,455.1 1764.0,454.8 1765.0,455.3 1766.1,456.1 1767.2,457.5 1768.3,457.6 1769.4,459.7 1770.4,459.6 1771.5,461.3 1772.6,461.8 1773.6,459.7 1774.6,458.2 1775.6,457.9 1776.6,456.0 1777.6,455.2 1778.7,453.3 1779.7,452.3 1780.7,453.4 1781.7,452.3 1782.7,452.3 1783.7,452.0 1784.7,449.7 1785.7,449.2 1786.7,450.7 1787.7,452.7 1788.7,453.3 1789.9,456.0 1791.1,457.6 1792.3,459.3 1793.1,460.5 1793.9,459.6 1794.8,460.3 1795.8,458.8 1796.8,456.5 1797.8,455.1 1798.8,454.3 1799.9,453.9 1801.0,455.2 1802.1,456.5 1803.2,455.8 1804.3,457.4 1805.4,457.3 1806.4,456.9 1807.4,455.5 1808.4,455.7 1809.4,455.3 1810.4,454.3 1811.4,454.0 1812.4,454.5 1813.4,456.1 1814.4,455.5 1815.6,454.2 1816.8,453.2 1818.0,451.1 1819.1,450.8 1820.2,451.3 1821.4,451.2 1822.5,452.3 1823.5,453.3 1824.5,453.1 1825.5,452.8 1826.5,453.8 1827.5,453.4 1828.5,452.9 1829.6,451.7 1830.6,451.2 1831.6,450.8 1832.6,451.8 1833.6,451.6 1834.6,452.1 1835.6,452.5 1836.6,453.8 1837.6,454.4 1838.6,454.2 1839.6,454.9 1840.7,456.3 1841.8,455.0 1842.9,456.0 1844.0,454.9 1845.2,454.3 1846.4,454.4 1847.5,456.7 1848.7,456.8 1849.9,456.3 1851.1,454.7 1852.2,454.3 1853.2,454.4 1854.3,455.1 1855.3,456.3 1856.3,457.1 1857.3,458.3 1858.5,458.3 1859.6,456.9 1860.8,456.8 1861.8,457.2 1862.8,457.5 1863.8,458.0 1864.8,458.8 1865.9,459.4 1867.1,458.2 1868.2,457.9 1869.3,457.6 1870.4,458.1 1871.1,457.2 1871.9,455.8 1873.1,457.7 1874.2,459.1 1875.4,461.8 1876.4,461.7 1877.4,463.1 1878.5,463.1 1879.5,463.4 1880.6,461.9 1881.8,460.3 1883.0,459.8 1884.0,461.6 1885.0,461.9 1886.0,463.9 1887.0,461.8 1888.0,460.5 1889.0,460.1 1890.0,458.8 1891.0,457.8 1892.1,457.1 1893.1,456.3 1894.1,455.7 1895.1,455.8 1896.2,455.4 1897.3,455.9 1898.5,455.4 1899.6,455.3 1900.8,457.2 1901.9,458.1 1903.0,459.2 1904.2,460.3 1905.2,459.5 1906.2,459.3 1907.2,458.8 1908.2,459.4 1909.2,459.1 1910.2,460.3 1911.2,458.5 1912.2,457.4 1913.2,456.3 1914.2,455.8 1915.2,457.6 1916.2,458.4 1917.3,459.2 1918.3,459.8 1919.4,460.0 1920.5,462.1 1921.7,462.3 1922.8,462.8 1923.9,461.9 1925.1,460.8 1926.2,459.3 1927.3,459.3 1928.4,459.7 1929.6,457.5 1930.7,457.7 1931.8,457.6 1932.9,456.8 1933.9,458.0 1934.9,460.7 1935.9,461.3 1936.8,461.5 1937.6,461.7 1938.4,462.8 1939.6,460.3 1940.8,458.2 1942.0,456.8" fill="none" stroke="#ffa10c" stroke-width="3.6" stroke-linejoin="round" stroke-linecap="round"/>
<polyline points="1503.8,672.9 1504.9,672.1 1506.1,671.2 1507.3,670.6 1508.5,669.7 1509.6,667.9 1510.7,667.1 1511.7,664.3 1512.8,663.2 1513.8,662.2 1514.9,660.1 1516.0,659.8 1517.0,659.8 1518.1,658.1 1519.1,657.7 1520.2,657.1 1521.3,656.9 1522.5,653.9 1523.7,651.4 1524.9,649.8 1526.1,647.4 1527.3,644.2 1528.4,641.9 1529.6,639.8 1530.8,636.2 1532.0,635.1 1533.2,632.7 1534.4,629.9 1535.6,628.2 1536.7,626.0 1537.9,624.8 1539.0,621.6 1540.1,620.5 1541.2,617.9 1542.2,617.0 1543.2,617.0 1544.2,616.8 1545.2,616.3 1546.4,613.1 1547.6,608.7 1548.8,605.0 1550.0,600.4 1551.2,599.1 1552.3,598.1 1553.5,598.0 1554.7,596.4 1555.5,594.6 1556.2,592.5 1557.3,591.5 1558.3,589.0 1559.4,587.5 1560.4,586.8 1561.5,585.2 1562.5,584.2 1563.5,581.8 1564.6,580.9 1565.6,579.2 1566.7,576.0 1567.7,573.9 1568.8,572.7 1569.8,571.3 1570.8,570.5 1571.9,570.6 1572.9,569.2 1574.0,568.5 1575.0,567.3 1576.0,563.5 1577.1,562.4 1578.1,560.2 1579.2,557.8 1580.2,557.4 1581.2,555.0 1582.3,555.8 1583.3,556.6 1584.4,558.1 1584.1,557.4 1584.7,621.0 1585.3,684.4 1586.1,555.4 1587.1,558.6 1588.2,560.4 1589.2,556.5 1590.2,554.4 1590.9,550.3 1591.7,547.3 1592.7,542.8 1593.7,545.5 1594.7,546.6 1595.7,548.8 1596.7,546.6 1597.7,546.6 1598.7,544.3 1599.9,546.8 1601.1,547.5 1602.3,549.3 1603.4,549.4 1604.6,549.8 1605.8,551.3 1606.8,550.5 1607.8,549.3 1608.8,548.0 1609.8,546.3 1611.0,545.8 1612.2,544.3 1613.3,543.8 1614.4,543.7 1615.4,544.5 1616.4,545.2 1617.4,544.9 1618.4,545.3 1619.4,545.1 1620.4,544.7 1621.4,544.8 1622.2,546.4 1623.1,547.6 1623.9,547.8 1624.9,546.1 1625.9,546.1 1627.0,544.6 1628.0,542.8 1628.8,543.1 1629.6,543.3 1630.5,544.3 1631.7,542.8 1632.8,540.7 1634.0,538.7 1635.0,540.9 1636.0,543.7 1637.0,544.8 1638.2,544.8 1639.3,543.4 1640.4,542.2 1641.6,541.2 1642.6,540.4 1643.6,540.1 1644.6,541.2 1645.6,540.0 1646.6,540.2 1647.6,541.3 1648.6,541.3 1649.6,541.8 1650.6,543.4 1651.7,543.8 1652.7,543.8 1653.7,544.3 1654.7,546.6 1655.7,546.3 1656.7,545.3 1657.7,544.4 1658.7,543.8 1659.7,545.9 1660.7,546.5 1661.7,549.2 1662.7,550.3 1663.8,547.8 1664.8,546.7 1665.8,544.3 1666.9,543.9 1668.0,542.0 1669.1,541.6 1670.2,541.7 1671.3,540.2 1672.4,541.0 1673.5,541.7 1674.6,541.9 1675.7,542.8 1676.8,544.3 1677.9,546.6 1678.9,548.2 1679.9,548.8 1680.9,550.3 1682.1,548.9 1683.2,546.3 1684.4,545.3 1685.3,546.4 1686.1,546.1 1686.9,546.1 1688.1,545.7 1689.2,545.2 1690.3,543.3 1691.5,543.1 1692.6,544.3 1693.8,544.8 1695.0,545.8 1696.0,545.6 1697.0,545.5 1698.0,546.6 1699.0,546.3 1700.0,546.7 1701.0,547.7 1702.1,549.1 1703.1,550.3 1704.2,549.4 1705.3,548.6 1706.4,547.4 1707.5,548.0 1708.6,546.3 1709.8,546.8 1711.0,549.3 1712.1,550.5 1713.3,551.3 1714.5,552.2 1715.7,553.9 1716.8,553.1 1718.0,551.6 1719.2,549.8 1720.4,547.0 1721.5,545.8 1722.7,542.8 1723.7,544.5 1724.7,545.2 1725.7,548.1 1726.8,548.8 1727.9,547.9 1729.1,546.8 1730.3,546.8 1731.3,548.3 1732.3,548.6 1733.3,548.8 1734.4,549.0 1735.6,549.4 1736.7,549.6 1737.8,549.8 1739.0,549.0 1740.2,547.4 1741.4,547.3 1742.5,548.9 1743.7,549.7 1744.9,551.3 1746.1,550.4 1747.3,550.4 1748.4,550.3 1749.4,550.8 1750.4,550.9 1751.5,551.9 1752.5,552.7 1753.5,553.0 1754.5,554.4 1755.5,553.7 1756.5,552.5 1757.5,552.8 1758.5,551.6 1759.5,550.2 1760.5,549.3 1760.0,549.3 1761.0,549.6 1762.0,550.9 1763.0,551.6 1764.0,551.3 1765.0,552.0 1766.0,553.4 1767.2,553.4 1768.3,552.6 1769.4,552.0 1770.6,552.3 1771.8,552.3 1772.9,552.6 1774.1,553.4 1775.3,550.2 1776.5,547.1 1777.6,545.3 1778.7,544.5 1779.7,544.9 1780.7,543.8 1781.8,544.1 1782.9,545.4 1784.1,546.9 1785.2,548.8 1786.2,548.3 1787.2,547.2 1788.2,547.3 1789.2,546.3 1790.2,546.8 1791.2,546.7 1792.3,546.5 1793.3,547.3 1794.3,547.6 1795.3,546.8 1796.3,547.1 1797.3,548.6 1798.3,549.8 1799.1,552.0 1800.0,553.1 1800.8,554.4 1802.0,551.3 1803.2,549.0 1804.3,545.8 1805.4,546.0 1806.4,547.7 1807.4,546.9 1808.4,548.3 1809.4,547.5 1810.4,548.6 1811.4,547.8 1812.4,547.8 1813.4,546.0 1814.4,543.8 1815.4,540.8 1816.5,541.7 1817.5,541.8 1818.3,543.9 1819.1,545.1 1820.0,547.3 1821.1,547.7 1822.2,547.6 1823.4,549.0 1824.5,548.8 1825.5,548.2 1826.5,545.0 1827.5,544.3 1828.5,542.8 1829.6,543.4 1830.6,543.6 1831.6,542.8 1832.6,543.9 1833.6,545.3 1834.6,546.3 1835.6,547.2 1836.6,549.3 1837.6,549.8 1838.6,552.2 1839.6,552.8 1840.6,554.2 1841.7,554.4 1842.7,553.4 1843.7,551.2 1844.7,550.8 1845.7,549.8 1846.8,550.0 1848.0,548.9 1849.1,548.9 1850.2,547.8 1851.2,545.2 1852.2,544.1 1853.2,542.8 1854.4,544.1 1855.6,545.7 1856.8,547.3 1857.9,546.9 1859.1,547.7 1860.3,547.3 1861.4,548.8 1862.6,549.9 1863.7,550.2 1864.8,551.3 1865.8,548.8 1866.8,547.8 1867.9,548.9 1868.9,550.4 1869.9,550.8 1870.9,550.0 1871.9,549.0 1872.9,549.0 1873.9,548.8 1874.9,548.3 1875.9,547.7 1876.9,548.8 1877.9,547.5 1879.0,548.3 1880.1,547.4 1881.3,546.1 1882.5,543.8 1883.6,545.1 1884.8,545.8 1885.9,546.4 1887.0,546.8 1888.2,548.1 1889.3,548.4 1890.4,549.2 1891.5,549.8 1892.7,547.8 1893.8,547.5 1895.0,547.3 1896.1,545.3 1897.3,545.1 1898.4,546.4 1899.6,547.3 1900.8,550.4 1902.0,552.0 1903.2,554.4 1904.2,553.3 1905.2,550.9 1906.2,548.8 1907.2,547.3 1908.2,548.1 1909.2,547.1 1910.2,547.9 1911.2,547.7 1912.2,548.2 1913.2,547.3 1914.4,548.1 1915.6,549.1 1916.8,549.3 1917.8,548.4 1918.8,549.4 1919.8,548.1 1920.8,548.8 1921.8,549.7 1922.8,551.9 1923.8,552.3 1924.8,553.7 1925.8,555.4 1926.8,554.6 1927.8,554.2 1928.9,551.6 1929.9,551.3 1930.9,549.6 1931.9,549.3 1932.9,548.3 1933.9,546.8 1934.9,546.9 1935.9,548.3 1936.9,547.8 1937.9,549.3 1938.9,546.9 1939.9,545.2 1941.0,543.8 1942.0,542.3" fill="none" stroke="#ffa10c" stroke-width="3.6" stroke-linejoin="round" stroke-linecap="round"/>
<polyline points="1503.8,672.9 1504.8,671.2 1505.9,670.7 1506.9,669.7 1508.0,669.5 1509.1,668.1 1510.1,666.5 1511.2,667.3 1512.4,667.5 1513.5,666.8 1514.6,668.5 1515.7,668.1 1516.7,666.0 1517.7,664.3 1518.7,661.4 1519.7,660.1 1520.7,658.7 1521.8,658.6 1522.9,656.3 1523.9,655.1 1525.0,654.5 1526.1,653.8 1527.1,652.2 1528.2,651.1 1529.2,649.7 1530.3,647.9 1531.4,646.2 1532.4,645.8 1533.6,644.6 1534.7,643.6 1535.8,643.1 1537.0,642.2 1538.1,641.6 1539.3,640.2 1540.4,639.4 1541.6,640.0 1542.8,641.3 1544.0,642.5 1545.2,642.6 1546.2,639.1 1547.2,634.2 1548.2,630.9 1549.2,627.5 1550.4,627.2 1551.5,626.2 1552.7,623.9 1553.9,622.7 1555.1,621.3 1556.3,621.1 1557.4,619.3 1558.5,618.2 1559.5,618.8 1560.6,617.6 1561.6,615.5 1562.7,614.7 1563.8,612.6 1565.0,612.9 1566.1,611.2 1567.3,610.4 1568.4,608.1 1569.5,607.8 1570.7,605.9 1571.7,607.3 1572.7,607.8 1573.7,608.6 1574.7,609.1 1575.8,607.7 1576.9,605.5 1578.0,604.7 1579.1,601.4 1580.2,600.4 1580.1,599.7 1580.9,600.4 1581.8,601.2 1582.6,602.3 1583.4,601.6 1584.3,601.5 1585.1,600.2 1585.9,597.2 1586.6,595.7 1587.4,602.4 1588.2,609.3 1589.2,606.2 1590.2,603.3 1591.0,600.9 1591.8,599.1 1592.7,596.7 1593.5,600.4 1594.4,603.7 1595.2,606.8 1596.2,604.8 1597.2,602.5 1598.2,601.6 1599.2,598.7 1600.2,601.1 1601.2,602.7 1602.3,604.3 1603.4,604.0 1604.6,605.1 1605.8,605.8 1606.6,607.1 1607.5,607.2 1608.3,608.8 1609.1,606.0 1610.0,603.3 1610.8,600.8 1612.0,601.4 1613.2,604.1 1614.3,604.8 1615.5,604.6 1616.6,602.6 1617.8,601.5 1618.9,601.2 1620.1,600.1 1621.2,600.3 1622.4,599.2 1623.4,600.2 1624.4,602.7 1625.4,604.5 1626.5,605.3 1627.6,604.0 1628.8,604.6 1630.0,603.8 1631.0,603.4 1632.0,602.5 1633.0,601.8 1634.0,600.8 1635.0,602.7 1636.0,604.8 1637.0,607.8 1638.0,607.8 1639.1,605.7 1640.1,606.3 1641.1,604.8 1642.1,606.6 1643.1,607.1 1644.1,608.5 1645.1,609.8 1646.2,608.6 1647.4,607.6 1648.5,607.7 1649.6,606.3 1650.6,605.6 1651.7,605.9 1652.7,607.4 1653.7,606.4 1654.7,606.9 1655.7,606.8 1656.7,606.2 1657.7,605.4 1658.7,604.3 1659.9,605.1 1661.1,605.1 1662.2,604.8 1663.2,603.8 1664.3,603.2 1665.3,603.8 1666.3,602.3 1667.4,602.1 1668.5,600.4 1669.7,599.2 1670.8,598.7 1672.0,599.9 1673.2,602.0 1674.3,602.8 1675.3,602.6 1676.3,602.6 1677.4,603.8 1678.5,605.2 1679.7,607.6 1680.9,610.3 1682.1,608.7 1683.2,605.0 1684.4,603.3 1685.6,603.2 1686.7,605.0 1687.8,605.9 1689.0,605.8 1690.1,607.5 1691.3,608.2 1692.5,608.3 1693.3,608.9 1694.2,608.6 1695.0,607.8 1696.1,609.6 1697.3,609.8 1698.4,611.5 1699.5,611.8 1700.7,610.9 1701.8,611.1 1702.9,612.2 1704.1,611.3 1705.2,609.8 1706.3,608.6 1707.5,607.5 1708.6,605.8 1709.7,606.7 1710.9,607.3 1712.0,609.8 1713.2,610.3 1714.2,610.9 1715.2,613.3 1716.2,613.8 1717.2,614.9 1718.4,614.7 1719.5,615.4 1720.7,614.4 1721.8,613.0 1723.0,612.6 1724.1,610.4 1725.2,609.8 1726.2,609.8 1727.3,608.4 1728.3,609.0 1729.3,607.7 1730.3,607.3 1731.3,607.5 1732.3,607.3 1733.3,605.5 1734.3,605.4 1735.3,605.3 1736.3,605.6 1737.3,604.2 1738.3,603.0 1739.3,603.3 1740.4,604.6 1741.4,606.7 1742.4,608.4 1743.4,610.3 1744.5,609.6 1745.7,608.9 1746.8,607.0 1747.9,606.8 1749.1,606.2 1750.3,606.6 1751.5,607.3 1752.5,609.0 1753.5,608.5 1754.5,610.4 1755.5,610.8 1756.5,610.7 1757.5,609.6 1758.5,610.1 1759.5,608.8 1760.0,609.8 1761.1,611.2 1762.2,612.0 1763.3,613.1 1764.4,613.0 1765.5,613.9 1766.6,613.7 1767.8,616.0 1768.9,615.1 1770.0,616.1 1771.1,617.4 1772.1,614.6 1773.1,612.1 1774.1,609.9 1775.1,607.3 1776.1,604.7 1777.1,603.1 1778.2,601.8 1779.3,602.9 1780.5,602.9 1781.7,604.3 1782.7,604.4 1783.7,605.6 1784.7,605.8 1785.8,605.9 1787.0,606.4 1788.1,606.6 1789.2,605.8 1790.2,606.8 1791.2,608.8 1792.3,611.3 1793.1,612.9 1793.9,612.5 1794.8,613.4 1795.8,612.2 1796.8,610.3 1797.8,610.7 1798.8,608.8 1799.9,607.9 1801.0,607.1 1802.1,606.6 1803.2,605.6 1804.3,604.3 1805.4,603.5 1806.4,605.2 1807.4,605.2 1808.4,605.1 1809.4,604.8 1810.5,604.8 1811.6,604.3 1812.7,602.4 1813.8,602.7 1814.9,601.3 1816.0,600.8 1817.0,602.0 1818.0,602.2 1819.0,602.9 1820.0,603.5 1821.0,603.8 1822.1,604.6 1823.2,606.0 1824.3,607.2 1825.4,608.4 1826.5,610.3 1827.5,609.2 1828.5,609.3 1829.6,607.5 1830.6,606.6 1831.6,606.3 1832.6,606.2 1833.6,605.7 1834.6,604.7 1835.6,605.4 1836.6,604.6 1837.6,603.8 1838.6,604.0 1839.6,603.4 1840.6,604.3 1841.7,603.9 1842.7,604.8 1843.7,604.8 1844.8,606.2 1845.9,605.9 1847.1,606.3 1848.2,607.8 1849.2,605.9 1850.2,604.3 1851.2,600.9 1852.2,599.7 1853.4,600.9 1854.5,601.7 1855.6,602.4 1856.8,602.3 1857.8,602.7 1858.8,603.4 1859.8,605.3 1860.8,607.4 1861.8,608.8 1862.8,610.8 1863.8,609.8 1864.8,606.9 1865.8,605.8 1867.0,606.7 1868.2,607.6 1869.4,607.3 1870.5,606.3 1871.6,605.2 1872.8,603.4 1873.9,602.8 1874.9,603.7 1875.9,605.0 1876.9,605.2 1877.9,606.2 1879.0,606.3 1880.0,606.1 1881.0,607.5 1882.0,607.5 1883.0,609.4 1884.0,609.9 1885.0,610.3 1886.0,610.9 1887.0,609.3 1888.0,610.4 1889.0,609.9 1890.0,609.4 1891.0,608.8 1892.1,608.5 1893.1,607.6 1894.1,605.9 1895.1,605.1 1896.1,604.3 1897.1,606.1 1898.1,605.4 1899.1,606.2 1900.1,608.3 1901.1,608.8 1902.1,609.4 1903.1,609.4 1904.2,609.6 1905.2,610.8 1906.2,609.9 1907.2,610.4 1908.2,609.8 1909.2,609.3 1910.2,608.4 1911.2,607.8 1912.2,607.2 1913.2,604.9 1914.2,604.8 1915.2,605.3 1916.2,603.8 1917.3,604.0 1918.3,605.0 1919.3,603.6 1920.3,604.3 1921.3,604.4 1922.3,605.5 1923.3,606.9 1924.3,607.5 1925.3,607.3 1926.5,608.7 1927.6,608.6 1928.7,609.9 1929.9,609.8 1930.9,608.8 1931.9,607.6 1932.9,606.5 1933.9,605.3 1935.1,606.0 1936.2,607.5 1937.4,608.3 1938.3,606.5 1939.1,606.1 1939.9,605.3 1941.0,603.1 1942.0,600.2" fill="none" stroke="#ffa10c" stroke-width="3.6" stroke-linejoin="round" stroke-linecap="round"/>
<polyline points="1503.8,672.9 1504.8,672.3 1505.9,672.4 1506.9,670.5 1508.0,670.5 1509.1,669.4 1510.1,669.7 1511.3,671.7 1512.5,672.7 1513.7,674.7 1514.9,676.9 1516.0,676.8 1517.0,674.7 1518.1,674.2 1519.1,673.8 1520.2,674.1 1521.3,672.9 1522.3,671.5 1523.4,670.4 1524.5,669.6 1525.5,667.1 1526.6,666.1 1527.7,664.9 1528.8,664.5 1529.9,665.9 1531.1,664.7 1532.2,666.3 1533.3,665.8 1534.5,666.4 1535.6,666.5 1536.7,664.6 1537.7,664.6 1538.8,662.2 1539.9,661.1 1540.9,660.6 1542.0,658.5 1543.0,659.1 1544.0,659.0 1545.0,659.2 1546.0,660.1 1547.0,658.5 1548.1,655.7 1549.2,653.0 1550.4,654.4 1551.5,655.3 1552.6,654.8 1553.7,654.8 1554.7,652.7 1555.8,652.4 1556.9,652.6 1557.9,651.4 1559.0,651.5 1560.2,651.3 1561.3,651.2 1562.4,650.7 1563.5,650.6 1564.5,648.5 1565.5,646.0 1566.5,644.8 1567.5,641.8 1568.7,641.8 1569.9,642.6 1570.0,642.7 1571.0,642.7 1572.0,643.1 1573.0,643.2 1574.0,644.2 1575.0,644.1 1576.0,643.7 1577.1,643.2 1577.9,640.3 1578.7,638.4 1579.6,636.7 1580.6,636.6 1581.6,635.2 1582.4,636.4 1583.3,638.8 1584.1,640.2 1585.1,653.3 1585.9,649.1 1586.6,645.2 1587.3,638.6 1587.9,633.1 1588.5,646.1 1589.2,657.3 1589.9,651.5 1590.7,645.2 1591.7,638.7 1592.5,641.8 1593.4,645.9 1594.2,649.3 1595.4,646.6 1596.5,645.1 1597.7,642.2 1598.6,642.4 1599.4,644.1 1600.2,645.2 1601.1,647.0 1601.9,648.7 1602.8,649.8 1603.6,647.7 1604.4,646.3 1605.3,645.8 1606.3,646.0 1607.3,646.5 1608.3,646.6 1609.3,646.2 1610.3,647.3 1611.3,648.2 1612.3,650.3 1613.3,651.3 1614.4,652.5 1615.4,654.4 1616.4,654.8 1617.5,651.7 1618.7,650.3 1619.9,647.8 1620.9,648.8 1621.9,649.4 1622.9,649.6 1623.9,651.3 1625.1,649.2 1626.3,647.3 1627.5,645.8 1628.6,646.5 1629.8,649.0 1631.0,649.8 1632.2,647.0 1633.3,644.9 1634.5,643.7 1635.5,645.5 1636.5,646.6 1637.5,646.8 1638.5,647.9 1639.6,648.4 1640.6,649.3 1641.6,648.3 1642.6,645.8 1643.6,644.9 1644.6,644.0 1645.6,642.7 1646.6,642.6 1647.6,644.6 1648.6,644.7 1649.6,644.7 1650.7,645.8 1651.7,647.0 1652.7,648.6 1653.7,649.3 1654.7,650.9 1655.7,651.3 1656.9,650.8 1658.0,649.4 1659.2,648.3 1660.2,649.7 1661.2,650.3 1662.2,650.3 1663.4,649.1 1664.5,648.3 1665.6,647.4 1666.8,647.3 1667.7,646.0 1668.7,644.5 1669.6,642.4 1670.6,640.7 1671.7,643.8 1672.8,644.8 1673.8,647.3 1674.8,646.3 1675.8,646.0 1676.8,645.8 1678.0,647.7 1679.1,648.9 1680.3,651.4 1681.4,652.3 1682.6,649.7 1683.7,648.3 1684.9,645.2 1685.9,645.8 1686.9,645.5 1687.9,646.5 1689.0,645.8 1690.0,646.9 1691.0,648.1 1692.0,649.1 1693.0,649.4 1694.0,649.8 1695.2,649.3 1696.3,648.7 1697.5,648.8 1698.7,648.6 1699.9,646.5 1701.0,645.8 1702.1,647.9 1703.1,648.1 1704.1,649.8 1705.1,648.3 1706.1,648.5 1707.1,647.0 1708.1,645.8 1709.1,646.1 1710.1,647.7 1711.1,648.8 1712.1,647.8 1713.2,647.8 1714.3,648.6 1715.5,650.1 1716.7,650.8 1717.8,649.8 1719.0,648.8 1720.2,646.8 1721.2,648.2 1722.2,647.6 1723.2,648.2 1724.2,650.0 1725.2,649.8 1726.2,649.7 1727.3,650.0 1728.3,648.8 1729.3,649.3 1730.3,647.3 1731.3,646.1 1732.3,644.9 1733.3,643.5 1734.3,642.2 1735.5,642.7 1736.7,642.3 1737.8,641.7 1739.0,643.1 1740.1,645.4 1741.2,646.8 1742.3,648.2 1743.4,648.8 1744.4,648.2 1745.4,648.5 1746.4,648.0 1747.4,648.8 1748.4,647.3 1749.4,647.6 1750.4,645.4 1751.5,645.2 1752.5,646.3 1753.5,645.9 1754.5,648.1 1755.5,648.3 1756.5,647.0 1757.5,647.5 1758.5,647.4 1759.5,646.2 1760.0,645.2 1761.2,645.7 1762.4,646.5 1763.5,648.0 1764.7,648.6 1765.9,649.3 1767.1,649.3 1768.2,650.0 1769.4,651.0 1770.6,651.7 1771.8,651.7 1772.9,652.5 1774.1,652.8 1775.2,651.1 1776.4,648.2 1777.5,647.2 1778.7,644.7 1779.7,643.6 1780.7,643.2 1781.7,641.7 1782.8,641.2 1784.0,641.3 1785.2,640.2 1786.0,640.9 1786.9,642.4 1787.7,642.7 1788.7,646.3 1789.7,650.8 1790.8,650.8 1792.0,649.9 1793.1,649.1 1794.2,648.8 1795.3,649.3 1796.3,650.2 1797.3,650.0 1798.3,650.7 1799.3,651.9 1800.3,652.3 1801.5,650.6 1802.6,646.9 1803.7,645.3 1804.9,643.2 1805.9,643.4 1806.9,642.2 1807.9,641.7 1808.9,642.2 1810.0,643.9 1811.1,643.9 1812.2,645.6 1813.3,645.0 1814.4,646.8 1815.6,647.1 1816.8,647.7 1818.0,647.0 1819.1,648.6 1820.3,648.5 1821.5,648.8 1822.6,648.6 1823.7,647.6 1824.8,647.1 1825.9,646.7 1827.0,645.2 1828.1,645.9 1829.3,646.1 1830.4,644.5 1831.5,644.5 1832.6,645.2 1833.6,646.2 1834.6,646.2 1835.6,647.1 1836.6,648.3 1837.6,647.7 1838.6,647.9 1839.6,646.0 1840.6,647.0 1841.7,645.4 1842.7,645.2 1843.8,647.1 1844.9,647.2 1846.0,648.4 1847.1,648.9 1848.2,650.3 1849.2,648.7 1850.2,646.6 1851.2,645.3 1852.2,643.2 1853.2,642.7 1854.3,644.2 1855.3,645.0 1856.3,644.7 1857.3,644.5 1858.3,644.4 1859.3,643.7 1860.3,644.8 1861.3,645.5 1862.3,647.3 1863.3,646.3 1864.3,644.0 1865.3,643.0 1866.3,642.2 1867.5,644.1 1868.6,644.9 1869.8,646.4 1870.9,647.8 1872.1,647.4 1873.2,646.7 1874.4,645.8 1875.4,646.2 1876.4,647.4 1877.4,647.1 1878.5,648.6 1879.5,648.8 1880.5,648.0 1881.5,648.1 1882.5,648.8 1883.5,651.6 1884.5,654.3 1885.5,653.4 1886.5,653.7 1887.5,653.4 1888.5,652.3 1889.7,652.6 1890.9,652.3 1892.1,653.3 1893.2,650.1 1894.4,648.4 1895.6,646.2 1896.6,646.4 1897.6,645.4 1898.6,644.7 1899.7,646.7 1900.9,647.8 1902.0,649.0 1903.2,649.8 1904.3,650.6 1905.4,649.8 1906.5,650.9 1907.7,651.3 1908.8,650.4 1909.9,649.4 1911.0,649.8 1912.1,648.4 1913.2,647.8 1914.4,649.1 1915.5,650.0 1916.6,650.4 1917.8,651.8 1918.8,652.2 1919.8,652.4 1920.8,652.8 1921.8,653.6 1922.8,653.8 1923.8,652.8 1924.8,651.5 1925.8,652.1 1926.8,651.4 1927.8,650.3 1929.0,648.9 1930.1,649.1 1931.2,648.9 1932.3,647.0 1933.4,647.3 1934.5,647.9 1935.7,648.2 1936.8,649.2 1937.9,649.3 1938.9,647.9 1939.9,646.5 1941.0,645.1 1942.0,643.2" fill="none" stroke="#ffa10c" stroke-width="3.6" stroke-linejoin="round" stroke-linecap="round"/>
<text x="1905.8" y="452.3" class="ar ann">100 nM</text>
<text x="1905.8" y="539.7" class="ar ann">50 nM</text>
<text x="1905.8" y="596.7" class="ar ann">25 nM</text>
<text x="1905.8" y="636.6" class="ar ann">10 nM</text>
</svg>
</body>
</html>
